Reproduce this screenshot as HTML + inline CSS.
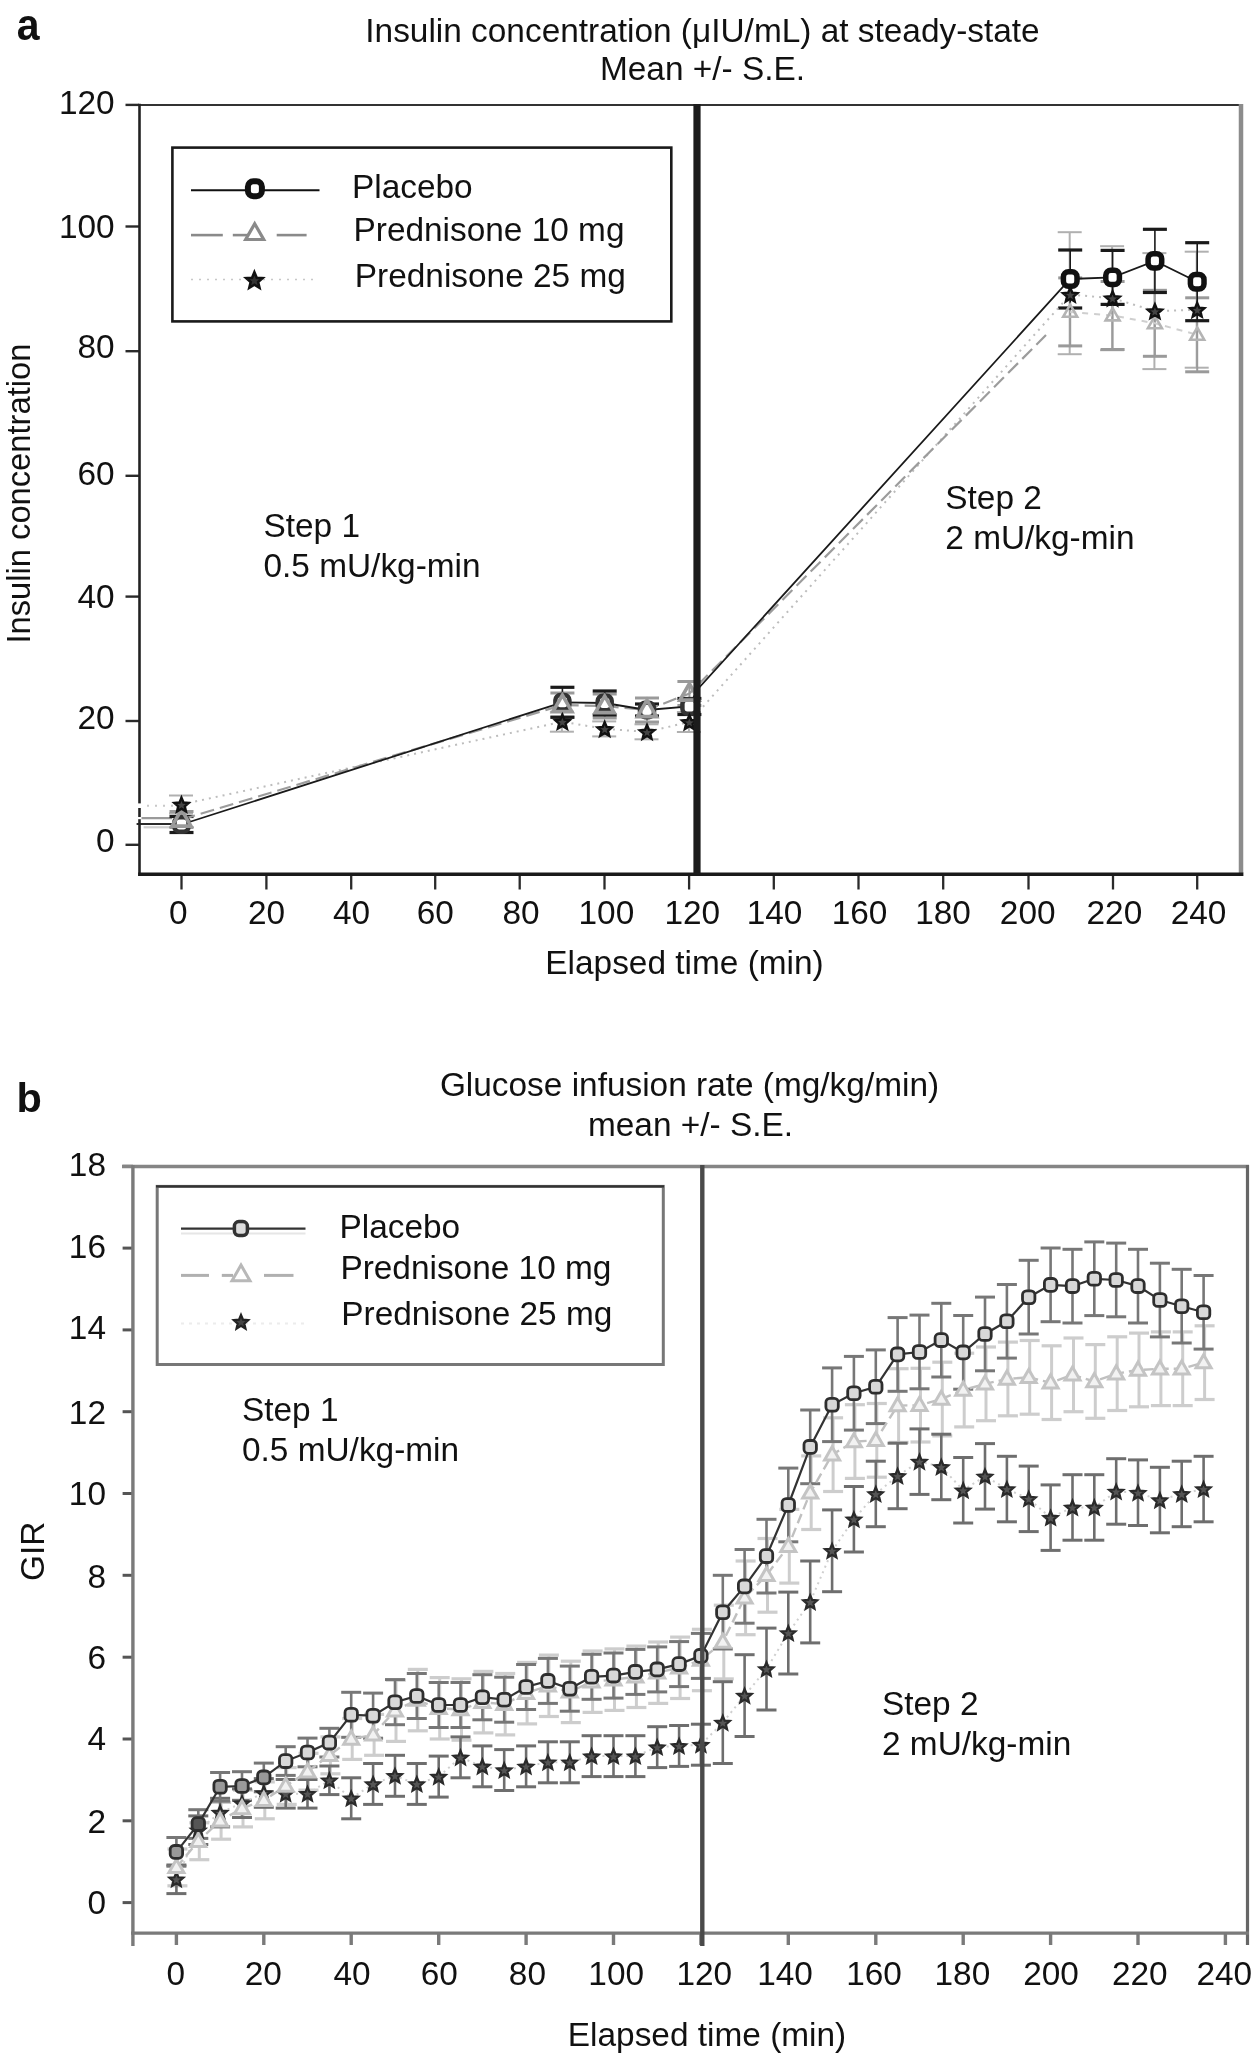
<!DOCTYPE html>
<html><head><meta charset="utf-8"><title>Insulin and GIR charts</title>
<style>
html,body{margin:0;padding:0;background:#fff;}
svg{display:block;filter:grayscale(1);}
text{font-family:"Liberation Sans", sans-serif;}
</style></head>
<body>
<svg width="1254" height="2054" viewBox="0 0 1254 2054">
<rect x="0" y="0" width="1254" height="2054" fill="#fff"/>
<text x="16.8" y="39.6" font-size="44" text-anchor="start" font-weight="bold" fill="#111" textLength="22.8" lengthAdjust="spacingAndGlyphs">a</text>
<text x="702.5" y="41.5" font-size="33.4" text-anchor="middle" font-weight="normal" fill="#111" >Insulin concentration (μIU/mL) at steady-state</text>
<text x="702.5" y="80.0" font-size="33.4" text-anchor="middle" font-weight="normal" fill="#111" >Mean +/- S.E.</text>
<line x1="125.5" y1="104.9" x2="139.0" y2="104.9" stroke="#2a2a2a" stroke-width="2.4" />
<text x="114.6" y="114.1" font-size="33.4" text-anchor="end" font-weight="normal" fill="#111" >120</text>
<line x1="125.5" y1="226.5" x2="139.0" y2="226.5" stroke="#2a2a2a" stroke-width="2.4" />
<text x="114.6" y="237.5" font-size="33.4" text-anchor="end" font-weight="normal" fill="#111" >100</text>
<line x1="125.5" y1="351.2" x2="139.0" y2="351.2" stroke="#2a2a2a" stroke-width="2.4" />
<text x="114.6" y="357.6" font-size="33.4" text-anchor="end" font-weight="normal" fill="#111" >80</text>
<line x1="125.5" y1="475.8" x2="139.0" y2="475.8" stroke="#2a2a2a" stroke-width="2.4" />
<text x="114.6" y="484.6" font-size="33.4" text-anchor="end" font-weight="normal" fill="#111" >60</text>
<line x1="125.5" y1="596.6" x2="139.0" y2="596.6" stroke="#2a2a2a" stroke-width="2.4" />
<text x="114.6" y="607.8" font-size="33.4" text-anchor="end" font-weight="normal" fill="#111" >40</text>
<line x1="125.5" y1="721.0" x2="139.0" y2="721.0" stroke="#2a2a2a" stroke-width="2.4" />
<text x="114.6" y="728.6" font-size="33.4" text-anchor="end" font-weight="normal" fill="#111" >20</text>
<line x1="125.5" y1="844.8" x2="139.0" y2="844.8" stroke="#2a2a2a" stroke-width="2.4" />
<text x="114.6" y="852.4" font-size="33.4" text-anchor="end" font-weight="normal" fill="#111" >0</text>
<line x1="181.5" y1="874.0" x2="181.5" y2="889.5" stroke="#2a2a2a" stroke-width="2.3" />
<text x="178.4" y="923.6" font-size="33.4" text-anchor="middle" font-weight="normal" fill="#111" >0</text>
<line x1="266.4" y1="874.0" x2="266.4" y2="889.5" stroke="#2a2a2a" stroke-width="2.3" />
<text x="266.6" y="923.6" font-size="33.4" text-anchor="middle" font-weight="normal" fill="#111" >20</text>
<line x1="351.2" y1="874.0" x2="351.2" y2="889.5" stroke="#2a2a2a" stroke-width="2.3" />
<text x="351.6" y="923.6" font-size="33.4" text-anchor="middle" font-weight="normal" fill="#111" >40</text>
<line x1="435.2" y1="874.0" x2="435.2" y2="889.5" stroke="#2a2a2a" stroke-width="2.3" />
<text x="435.2" y="923.6" font-size="33.4" text-anchor="middle" font-weight="normal" fill="#111" >60</text>
<line x1="519.7" y1="874.0" x2="519.7" y2="889.5" stroke="#2a2a2a" stroke-width="2.3" />
<text x="521.1" y="923.6" font-size="33.4" text-anchor="middle" font-weight="normal" fill="#111" >80</text>
<line x1="604.5" y1="874.0" x2="604.5" y2="889.5" stroke="#2a2a2a" stroke-width="2.3" />
<text x="606.4" y="923.6" font-size="33.4" text-anchor="middle" font-weight="normal" fill="#111" >100</text>
<line x1="689.1" y1="874.0" x2="689.1" y2="889.5" stroke="#2a2a2a" stroke-width="2.3" />
<text x="692.3" y="923.6" font-size="33.4" text-anchor="middle" font-weight="normal" fill="#111" >120</text>
<line x1="773.8" y1="874.0" x2="773.8" y2="889.5" stroke="#2a2a2a" stroke-width="2.3" />
<text x="774.5" y="923.6" font-size="33.4" text-anchor="middle" font-weight="normal" fill="#111" >140</text>
<line x1="858.5" y1="874.0" x2="858.5" y2="889.5" stroke="#2a2a2a" stroke-width="2.3" />
<text x="859.5" y="923.6" font-size="33.4" text-anchor="middle" font-weight="normal" fill="#111" >160</text>
<line x1="943.2" y1="874.0" x2="943.2" y2="889.5" stroke="#2a2a2a" stroke-width="2.3" />
<text x="943.1" y="923.6" font-size="33.4" text-anchor="middle" font-weight="normal" fill="#111" >180</text>
<line x1="1028.5" y1="874.0" x2="1028.5" y2="889.5" stroke="#2a2a2a" stroke-width="2.3" />
<text x="1027.7" y="923.6" font-size="33.4" text-anchor="middle" font-weight="normal" fill="#111" >200</text>
<line x1="1113.0" y1="874.0" x2="1113.0" y2="889.5" stroke="#2a2a2a" stroke-width="2.3" />
<text x="1114.4" y="923.6" font-size="33.4" text-anchor="middle" font-weight="normal" fill="#111" >220</text>
<line x1="1197.2" y1="874.0" x2="1197.2" y2="889.5" stroke="#2a2a2a" stroke-width="2.3" />
<text x="1198.6" y="923.6" font-size="33.4" text-anchor="middle" font-weight="normal" fill="#111" >240</text>
<text x="684.5" y="974.0" font-size="33.4" text-anchor="middle" font-weight="normal" fill="#111" >Elapsed time (min)</text>
<text x="29.6" y="493.6" font-size="33" text-anchor="middle" font-weight="normal" fill="#111" transform="rotate(-90 29.6 493.6)" textLength="300" lengthAdjust="spacingAndGlyphs">Insulin concentration</text>
<text x="263.5" y="536.5" font-size="33.4" text-anchor="start" font-weight="normal" fill="#111" >Step 1</text>
<text x="263.5" y="577.3" font-size="33.4" text-anchor="start" font-weight="normal" fill="#111" >0.5 mU/kg-min</text>
<text x="945.3" y="508.5" font-size="33.4" text-anchor="start" font-weight="normal" fill="#111" >Step 2</text>
<text x="945.3" y="548.5" font-size="33.4" text-anchor="start" font-weight="normal" fill="#111" >2 mU/kg-min</text>
<rect x="172.4" y="147.6" width="498.9" height="173.8" fill="none" stroke="#1a1a1a" stroke-width="2.6"/>
<line x1="191.0" y1="190.2" x2="319.5" y2="190.2" stroke="#111" stroke-width="2" />
<rect x="247.9" y="181.2" width="14" height="15.0" rx="5.5" fill="#fff" stroke="#111" stroke-width="6"/>
<line x1="191.0" y1="235.1" x2="222.8" y2="235.1" stroke="#8a8a8a" stroke-width="2.6" />
<line x1="232.8" y1="235.1" x2="248.7" y2="235.1" stroke="#8a8a8a" stroke-width="2.6" />
<line x1="276.7" y1="235.1" x2="306.6" y2="235.1" stroke="#8a8a8a" stroke-width="2.6" />
<polygon points="254.7,223.8 263.7,239.5 245.7,239.5" fill="#fff" stroke="#8a8a8a" stroke-width="3.2" stroke-linejoin="miter"/>
<line x1="191.0" y1="279.6" x2="318.0" y2="279.6" stroke="#c8c8c8" stroke-width="1.5" stroke-dasharray="2 6"/>
<polygon points="254.4,272.2 256.7,277.7 262.6,278.1 258.1,282.0 259.5,287.8 254.4,284.7 249.3,287.8 250.7,282.0 246.2,278.1 252.1,277.7" fill="#333" stroke="#111" stroke-width="2.6"/>
<text x="352.0" y="198.3" font-size="33.4" text-anchor="start" font-weight="normal" fill="#111" >Placebo</text>
<text x="353.5" y="240.5" font-size="33.4" text-anchor="start" font-weight="normal" fill="#111" >Prednisone 10 mg</text>
<text x="354.8" y="286.6" font-size="33.4" text-anchor="start" font-weight="normal" fill="#111" >Prednisone 25 mg</text>
<line x1="139.0" y1="818.1" x2="172.0" y2="818.1" stroke="#9a9a9a" stroke-width="2.2" />
<line x1="136.6" y1="823.9" x2="172.0" y2="823.9" stroke="#2a2a2a" stroke-width="2" />
<line x1="143.6" y1="827.3" x2="170.0" y2="827.3" stroke="#cfcfcf" stroke-width="2.2" />
<line x1="139.0" y1="805.7" x2="180.0" y2="805.7" stroke="#c8c8c8" stroke-width="2" stroke-dasharray="2 6"/>
<line x1="181.0" y1="795.5" x2="181.0" y2="813.5" stroke="#b0b0b0" stroke-width="2" />
<line x1="169.0" y1="795.5" x2="193.0" y2="795.5" stroke="#b0b0b0" stroke-width="2" />
<line x1="169.0" y1="813.5" x2="193.0" y2="813.5" stroke="#b0b0b0" stroke-width="2" />
<line x1="561.9" y1="711.7" x2="561.9" y2="731.7" stroke="#b0b0b0" stroke-width="2" />
<line x1="549.9" y1="711.7" x2="573.9" y2="711.7" stroke="#b0b0b0" stroke-width="2" />
<line x1="549.9" y1="731.7" x2="573.9" y2="731.7" stroke="#b0b0b0" stroke-width="2" />
<line x1="604.2" y1="721.4" x2="604.2" y2="736.4" stroke="#b0b0b0" stroke-width="2" />
<line x1="592.2" y1="721.4" x2="616.2" y2="721.4" stroke="#b0b0b0" stroke-width="2" />
<line x1="592.2" y1="736.4" x2="616.2" y2="736.4" stroke="#b0b0b0" stroke-width="2" />
<line x1="646.5" y1="724.3" x2="646.5" y2="739.3" stroke="#b0b0b0" stroke-width="2" />
<line x1="634.5" y1="724.3" x2="658.5" y2="724.3" stroke="#b0b0b0" stroke-width="2" />
<line x1="634.5" y1="739.3" x2="658.5" y2="739.3" stroke="#b0b0b0" stroke-width="2" />
<line x1="688.9" y1="712.0" x2="688.9" y2="732.0" stroke="#b0b0b0" stroke-width="2" />
<line x1="676.9" y1="712.0" x2="700.9" y2="712.0" stroke="#b0b0b0" stroke-width="2" />
<line x1="676.9" y1="732.0" x2="700.9" y2="732.0" stroke="#b0b0b0" stroke-width="2" />
<line x1="1069.7" y1="232.2" x2="1069.7" y2="354.2" stroke="#b0b0b0" stroke-width="2" />
<line x1="1057.7" y1="232.2" x2="1081.7" y2="232.2" stroke="#b0b0b0" stroke-width="2" />
<line x1="1057.7" y1="354.2" x2="1081.7" y2="354.2" stroke="#b0b0b0" stroke-width="2" />
<line x1="1112.1" y1="246.2" x2="1112.1" y2="350.2" stroke="#b0b0b0" stroke-width="2" />
<line x1="1100.1" y1="246.2" x2="1124.1" y2="246.2" stroke="#b0b0b0" stroke-width="2" />
<line x1="1100.1" y1="350.2" x2="1124.1" y2="350.2" stroke="#b0b0b0" stroke-width="2" />
<line x1="1154.4" y1="253.1" x2="1154.4" y2="369.1" stroke="#b0b0b0" stroke-width="2" />
<line x1="1142.4" y1="253.1" x2="1166.4" y2="253.1" stroke="#b0b0b0" stroke-width="2" />
<line x1="1142.4" y1="369.1" x2="1166.4" y2="369.1" stroke="#b0b0b0" stroke-width="2" />
<line x1="1196.7" y1="251.7" x2="1196.7" y2="367.7" stroke="#b0b0b0" stroke-width="2" />
<line x1="1184.7" y1="251.7" x2="1208.7" y2="251.7" stroke="#b0b0b0" stroke-width="2" />
<line x1="1184.7" y1="367.7" x2="1208.7" y2="367.7" stroke="#b0b0b0" stroke-width="2" />
<line x1="181.5" y1="811.5" x2="181.5" y2="827.5" stroke="#9a9a9a" stroke-width="2" />
<line x1="169.5" y1="811.5" x2="193.5" y2="811.5" stroke="#9a9a9a" stroke-width="3" />
<line x1="169.5" y1="827.5" x2="193.5" y2="827.5" stroke="#9a9a9a" stroke-width="3" />
<line x1="562.4" y1="693.0" x2="562.4" y2="717.0" stroke="#9a9a9a" stroke-width="2" />
<line x1="550.4" y1="693.0" x2="574.4" y2="693.0" stroke="#9a9a9a" stroke-width="3" />
<line x1="550.4" y1="717.0" x2="574.4" y2="717.0" stroke="#9a9a9a" stroke-width="3" />
<line x1="604.7" y1="694.0" x2="604.7" y2="718.0" stroke="#9a9a9a" stroke-width="2" />
<line x1="592.7" y1="694.0" x2="616.7" y2="694.0" stroke="#9a9a9a" stroke-width="3" />
<line x1="592.7" y1="718.0" x2="616.7" y2="718.0" stroke="#9a9a9a" stroke-width="3" />
<line x1="647.0" y1="698.0" x2="647.0" y2="722.0" stroke="#9a9a9a" stroke-width="2" />
<line x1="635.0" y1="698.0" x2="659.0" y2="698.0" stroke="#9a9a9a" stroke-width="3" />
<line x1="635.0" y1="722.0" x2="659.0" y2="722.0" stroke="#9a9a9a" stroke-width="3" />
<line x1="689.4" y1="681.5" x2="689.4" y2="705.5" stroke="#9a9a9a" stroke-width="2" />
<line x1="677.4" y1="681.5" x2="701.4" y2="681.5" stroke="#9a9a9a" stroke-width="3" />
<line x1="677.4" y1="705.5" x2="701.4" y2="705.5" stroke="#9a9a9a" stroke-width="3" />
<line x1="1070.2" y1="277.9" x2="1070.2" y2="345.9" stroke="#9a9a9a" stroke-width="2" />
<line x1="1058.2" y1="277.9" x2="1082.2" y2="277.9" stroke="#9a9a9a" stroke-width="3" />
<line x1="1058.2" y1="345.9" x2="1082.2" y2="345.9" stroke="#9a9a9a" stroke-width="3" />
<line x1="1112.6" y1="281.5" x2="1112.6" y2="349.5" stroke="#9a9a9a" stroke-width="2" />
<line x1="1100.6" y1="281.5" x2="1124.6" y2="281.5" stroke="#9a9a9a" stroke-width="3" />
<line x1="1100.6" y1="349.5" x2="1124.6" y2="349.5" stroke="#9a9a9a" stroke-width="3" />
<line x1="1154.9" y1="290.3" x2="1154.9" y2="356.3" stroke="#9a9a9a" stroke-width="2" />
<line x1="1142.9" y1="290.3" x2="1166.9" y2="290.3" stroke="#9a9a9a" stroke-width="3" />
<line x1="1142.9" y1="356.3" x2="1166.9" y2="356.3" stroke="#9a9a9a" stroke-width="3" />
<line x1="1197.2" y1="297.8" x2="1197.2" y2="371.8" stroke="#9a9a9a" stroke-width="2" />
<line x1="1185.2" y1="297.8" x2="1209.2" y2="297.8" stroke="#9a9a9a" stroke-width="3" />
<line x1="1185.2" y1="371.8" x2="1209.2" y2="371.8" stroke="#9a9a9a" stroke-width="3" />
<line x1="181.5" y1="816.5" x2="181.5" y2="832.5" stroke="#1a1a1a" stroke-width="1.6" />
<line x1="169.5" y1="816.5" x2="193.5" y2="816.5" stroke="#1a1a1a" stroke-width="3.2" />
<line x1="169.5" y1="832.5" x2="193.5" y2="832.5" stroke="#1a1a1a" stroke-width="3.2" />
<line x1="562.4" y1="687.3" x2="562.4" y2="717.3" stroke="#1a1a1a" stroke-width="1.6" />
<line x1="550.4" y1="687.3" x2="574.4" y2="687.3" stroke="#1a1a1a" stroke-width="3.2" />
<line x1="550.4" y1="717.3" x2="574.4" y2="717.3" stroke="#1a1a1a" stroke-width="3.2" />
<line x1="604.7" y1="691.0" x2="604.7" y2="715.0" stroke="#1a1a1a" stroke-width="1.6" />
<line x1="592.7" y1="691.0" x2="616.7" y2="691.0" stroke="#1a1a1a" stroke-width="3.2" />
<line x1="592.7" y1="715.0" x2="616.7" y2="715.0" stroke="#1a1a1a" stroke-width="3.2" />
<line x1="647.0" y1="704.0" x2="647.0" y2="716.0" stroke="#1a1a1a" stroke-width="1.6" />
<line x1="635.0" y1="704.0" x2="659.0" y2="704.0" stroke="#1a1a1a" stroke-width="3.2" />
<line x1="635.0" y1="716.0" x2="659.0" y2="716.0" stroke="#1a1a1a" stroke-width="3.2" />
<line x1="689.4" y1="698.5" x2="689.4" y2="714.5" stroke="#1a1a1a" stroke-width="1.6" />
<line x1="677.4" y1="698.5" x2="701.4" y2="698.5" stroke="#1a1a1a" stroke-width="3.2" />
<line x1="677.4" y1="714.5" x2="701.4" y2="714.5" stroke="#1a1a1a" stroke-width="3.2" />
<line x1="1070.2" y1="250.0" x2="1070.2" y2="308.0" stroke="#1a1a1a" stroke-width="1.6" />
<line x1="1058.2" y1="250.0" x2="1082.2" y2="250.0" stroke="#1a1a1a" stroke-width="3.2" />
<line x1="1058.2" y1="308.0" x2="1082.2" y2="308.0" stroke="#1a1a1a" stroke-width="3.2" />
<line x1="1112.6" y1="250.4" x2="1112.6" y2="304.4" stroke="#1a1a1a" stroke-width="1.6" />
<line x1="1100.6" y1="250.4" x2="1124.6" y2="250.4" stroke="#1a1a1a" stroke-width="3.2" />
<line x1="1100.6" y1="304.4" x2="1124.6" y2="304.4" stroke="#1a1a1a" stroke-width="3.2" />
<line x1="1154.9" y1="229.3" x2="1154.9" y2="292.5" stroke="#1a1a1a" stroke-width="1.6" />
<line x1="1142.9" y1="229.3" x2="1166.9" y2="229.3" stroke="#1a1a1a" stroke-width="3.2" />
<line x1="1142.9" y1="292.5" x2="1166.9" y2="292.5" stroke="#1a1a1a" stroke-width="3.2" />
<line x1="1197.2" y1="242.7" x2="1197.2" y2="320.7" stroke="#1a1a1a" stroke-width="1.6" />
<line x1="1185.2" y1="242.7" x2="1209.2" y2="242.7" stroke="#1a1a1a" stroke-width="3.2" />
<line x1="1185.2" y1="320.7" x2="1209.2" y2="320.7" stroke="#1a1a1a" stroke-width="3.2" />
<polyline points="181.5,804.5 562.4,721.7 604.7,728.9 647.0,731.8 689.4,722.0 1070.2,294.6 1112.6,298.2 1154.9,311.1 1197.2,309.7" fill="none" stroke="#bdbdbd" stroke-width="2" stroke-dasharray="2 5"/>
<polyline points="181.5,819.5 562.4,705.0 604.7,706.0 647.0,710.0 689.4,693.5 1046.0,335.0" fill="none" stroke="#9c9c9c" stroke-width="2.2" stroke-dasharray="14 6"/>
<polyline points="1070.2,311.9 1112.6,315.5 1154.9,323.3 1197.2,334.8" fill="none" stroke="#cfcfcf" stroke-width="2" stroke-dasharray="6 6"/>
<polyline points="181.5,824.5 562.4,702.3 604.7,703.0 647.0,710.0 689.4,706.5 697.0,690.0 1070.2,279.0 1112.6,277.4 1154.9,260.9 1197.2,281.7" fill="none" stroke="#1a1a1a" stroke-width="1.8" />
<rect x="174.5" y="817.3" width="14" height="14.4" rx="5" fill="#fff" stroke="#333" stroke-width="4.5"/>
<rect x="555.4" y="695.1" width="14" height="14.4" rx="5" fill="#fff" stroke="#333" stroke-width="4.5"/>
<rect x="597.7" y="695.8" width="14" height="14.4" rx="5" fill="#fff" stroke="#333" stroke-width="4.5"/>
<rect x="640.0" y="702.8" width="14" height="14.4" rx="5" fill="#fff" stroke="#333" stroke-width="4.5"/>
<rect x="682.4" y="699.3" width="14" height="14.4" rx="5" fill="#fff" stroke="#333" stroke-width="4.5"/>
<polygon points="181.5,809.6 191.0,826.1 172.0,826.1" fill="none" stroke="#9a9a9a" stroke-width="3.6" stroke-linejoin="miter"/>
<polygon points="562.4,695.1 571.9,711.6 552.9,711.6" fill="none" stroke="#9a9a9a" stroke-width="3.6" stroke-linejoin="miter"/>
<polygon points="604.7,696.1 614.2,712.6 595.2,712.6" fill="none" stroke="#9a9a9a" stroke-width="3.6" stroke-linejoin="miter"/>
<polygon points="647.0,700.1 656.5,716.6 637.5,716.6" fill="none" stroke="#9a9a9a" stroke-width="3.6" stroke-linejoin="miter"/>
<polygon points="689.4,683.6 698.9,700.1 679.9,700.1" fill="none" stroke="#9a9a9a" stroke-width="3.6" stroke-linejoin="miter"/>
<rect x="1063.4" y="271.8" width="13.6" height="14.4" rx="5" fill="#fff" stroke="#111" stroke-width="5.5"/>
<rect x="1105.8" y="270.2" width="13.6" height="14.4" rx="5" fill="#fff" stroke="#111" stroke-width="5.5"/>
<rect x="1148.1" y="253.7" width="13.6" height="14.4" rx="5" fill="#fff" stroke="#111" stroke-width="5.5"/>
<rect x="1190.4" y="274.5" width="13.6" height="14.4" rx="5" fill="#fff" stroke="#111" stroke-width="5.5"/>
<polygon points="1070.2,304.6 1077.2,316.8 1063.2,316.8" fill="none" stroke="#b4b4b4" stroke-width="2.6" stroke-linejoin="miter"/>
<polygon points="1112.6,308.2 1119.6,320.4 1105.6,320.4" fill="none" stroke="#b4b4b4" stroke-width="2.6" stroke-linejoin="miter"/>
<polygon points="1154.9,316.0 1161.9,328.2 1147.9,328.2" fill="none" stroke="#b4b4b4" stroke-width="2.6" stroke-linejoin="miter"/>
<polygon points="1197.2,327.5 1204.2,339.7 1190.2,339.7" fill="none" stroke="#b4b4b4" stroke-width="2.6" stroke-linejoin="miter"/>
<polygon points="181.5,797.7 183.5,802.5 188.7,803.0 184.8,806.4 186.0,811.4 181.5,808.7 177.0,811.4 178.2,806.4 174.3,803.0 179.5,802.5" fill="#444" stroke="#111" stroke-width="2.4"/>
<polygon points="562.4,714.9 564.4,719.7 569.6,720.2 565.6,723.6 566.9,728.6 562.4,725.9 557.9,728.6 559.1,723.6 555.2,720.2 560.4,719.7" fill="#444" stroke="#111" stroke-width="2.4"/>
<polygon points="604.7,722.1 606.7,726.9 611.9,727.4 608.0,730.8 609.2,735.8 604.7,733.1 600.2,735.8 601.5,730.8 597.5,727.4 602.7,726.9" fill="#444" stroke="#111" stroke-width="2.4"/>
<polygon points="647.0,725.0 649.0,729.8 654.3,730.3 650.3,733.7 651.5,738.7 647.0,736.0 642.6,738.7 643.8,733.7 639.8,730.3 645.0,729.8" fill="#444" stroke="#111" stroke-width="2.4"/>
<polygon points="689.4,715.2 691.4,720.0 696.6,720.5 692.6,723.9 693.8,728.9 689.4,726.2 684.9,728.9 686.1,723.9 682.1,720.5 687.3,720.0" fill="#444" stroke="#111" stroke-width="2.4"/>
<polygon points="1070.2,287.8 1072.3,292.6 1077.5,293.1 1073.5,296.5 1074.7,301.5 1070.2,298.8 1065.8,301.5 1067.0,296.5 1063.0,293.1 1068.2,292.6" fill="#444" stroke="#111" stroke-width="2.4"/>
<polygon points="1112.6,291.4 1114.6,296.2 1119.8,296.7 1115.8,300.1 1117.0,305.1 1112.6,302.4 1108.1,305.1 1109.3,300.1 1105.3,296.7 1110.6,296.2" fill="#444" stroke="#111" stroke-width="2.4"/>
<polygon points="1154.9,304.3 1156.9,309.1 1162.1,309.6 1158.1,313.0 1159.4,318.0 1154.9,315.3 1150.4,318.0 1151.6,313.0 1147.7,309.6 1152.9,309.1" fill="#444" stroke="#111" stroke-width="2.4"/>
<polygon points="1197.2,302.9 1199.2,307.7 1204.4,308.2 1200.5,311.6 1201.7,316.6 1197.2,313.9 1192.7,316.6 1194.0,311.6 1190.0,308.2 1195.2,307.7" fill="#444" stroke="#111" stroke-width="2.4"/>
<line x1="139.0" y1="104.9" x2="1243.0" y2="104.9" stroke="#333" stroke-width="2" />
<line x1="1241.0" y1="104.0" x2="1241.0" y2="873.0" stroke="#8c8c8c" stroke-width="4.5" />
<line x1="139.5" y1="103.8" x2="139.5" y2="876.0" stroke="#222" stroke-width="2.6" />
<line x1="138.2" y1="874.2" x2="1243.4" y2="874.2" stroke="#1a1a1a" stroke-width="3.5" />
<line x1="697.0" y1="104.0" x2="697.0" y2="874.0" stroke="#1c1c1c" stroke-width="7.2" />
<rect x="137" y="803.4" width="4.5" height="4.6" fill="#fff"/>
<rect x="137" y="817" width="4.5" height="2.2" fill="#fff"/>
<text x="16.6" y="1112.4" font-size="41.5" text-anchor="start" font-weight="bold" fill="#111" >b</text>
<text x="689.5" y="1095.5" font-size="33.4" text-anchor="middle" font-weight="normal" fill="#111" >Glucose infusion rate (mg/kg/min)</text>
<text x="690.5" y="1136.0" font-size="33.4" text-anchor="middle" font-weight="normal" fill="#111" >mean +/- S.E.</text>
<line x1="122.6" y1="1902.6" x2="133.0" y2="1902.6" stroke="#555" stroke-width="3" />
<text x="106.0" y="1913.8" font-size="33.4" text-anchor="end" font-weight="normal" fill="#111" >0</text>
<line x1="122.6" y1="1820.8" x2="133.0" y2="1820.8" stroke="#555" stroke-width="3" />
<text x="106.0" y="1832.5" font-size="33.4" text-anchor="end" font-weight="normal" fill="#111" >2</text>
<line x1="122.6" y1="1739.0" x2="133.0" y2="1739.0" stroke="#555" stroke-width="3" />
<text x="106.0" y="1750.3" font-size="33.4" text-anchor="end" font-weight="normal" fill="#111" >4</text>
<line x1="122.6" y1="1657.2" x2="133.0" y2="1657.2" stroke="#555" stroke-width="3" />
<text x="106.0" y="1668.7" font-size="33.4" text-anchor="end" font-weight="normal" fill="#111" >6</text>
<line x1="122.6" y1="1575.3" x2="133.0" y2="1575.3" stroke="#555" stroke-width="3" />
<text x="106.0" y="1587.6" font-size="33.4" text-anchor="end" font-weight="normal" fill="#111" >8</text>
<line x1="122.6" y1="1493.5" x2="133.0" y2="1493.5" stroke="#555" stroke-width="3" />
<text x="106.0" y="1505.0" font-size="33.4" text-anchor="end" font-weight="normal" fill="#111" >10</text>
<line x1="122.6" y1="1411.7" x2="133.0" y2="1411.7" stroke="#555" stroke-width="3" />
<text x="106.0" y="1423.8" font-size="33.4" text-anchor="end" font-weight="normal" fill="#111" >12</text>
<line x1="122.6" y1="1329.9" x2="133.0" y2="1329.9" stroke="#555" stroke-width="3" />
<text x="106.0" y="1339.0" font-size="33.4" text-anchor="end" font-weight="normal" fill="#111" >14</text>
<line x1="122.6" y1="1248.1" x2="133.0" y2="1248.1" stroke="#555" stroke-width="3" />
<text x="106.0" y="1258.2" font-size="33.4" text-anchor="end" font-weight="normal" fill="#111" >16</text>
<line x1="122.6" y1="1166.3" x2="133.0" y2="1166.3" stroke="#555" stroke-width="3" />
<text x="106.0" y="1175.9" font-size="33.4" text-anchor="end" font-weight="normal" fill="#111" >18</text>
<line x1="176.4" y1="1933.0" x2="176.4" y2="1945.0" stroke="#7a7a7a" stroke-width="3.4" />
<text x="175.9" y="1984.8" font-size="33.4" text-anchor="middle" font-weight="normal" fill="#111" >0</text>
<line x1="263.8" y1="1933.0" x2="263.8" y2="1945.0" stroke="#7a7a7a" stroke-width="3.4" />
<text x="263.3" y="1984.8" font-size="33.4" text-anchor="middle" font-weight="normal" fill="#111" >20</text>
<line x1="351.2" y1="1933.0" x2="351.2" y2="1945.0" stroke="#7a7a7a" stroke-width="3.4" />
<text x="352.0" y="1984.8" font-size="33.4" text-anchor="middle" font-weight="normal" fill="#111" >40</text>
<line x1="438.7" y1="1933.0" x2="438.7" y2="1945.0" stroke="#7a7a7a" stroke-width="3.4" />
<text x="439.3" y="1984.8" font-size="33.4" text-anchor="middle" font-weight="normal" fill="#111" >60</text>
<line x1="526.1" y1="1933.0" x2="526.1" y2="1945.0" stroke="#7a7a7a" stroke-width="3.4" />
<text x="527.4" y="1984.8" font-size="33.4" text-anchor="middle" font-weight="normal" fill="#111" >80</text>
<line x1="613.5" y1="1933.0" x2="613.5" y2="1945.0" stroke="#7a7a7a" stroke-width="3.4" />
<text x="616.2" y="1984.8" font-size="33.4" text-anchor="middle" font-weight="normal" fill="#111" >100</text>
<line x1="700.9" y1="1933.0" x2="700.9" y2="1945.0" stroke="#7a7a7a" stroke-width="3.4" />
<text x="704.3" y="1984.8" font-size="33.4" text-anchor="middle" font-weight="normal" fill="#111" >120</text>
<line x1="788.3" y1="1933.0" x2="788.3" y2="1945.0" stroke="#7a7a7a" stroke-width="3.4" />
<text x="785.0" y="1984.8" font-size="33.4" text-anchor="middle" font-weight="normal" fill="#111" >140</text>
<line x1="875.8" y1="1933.0" x2="875.8" y2="1945.0" stroke="#7a7a7a" stroke-width="3.4" />
<text x="874.0" y="1984.8" font-size="33.4" text-anchor="middle" font-weight="normal" fill="#111" >160</text>
<line x1="963.2" y1="1933.0" x2="963.2" y2="1945.0" stroke="#7a7a7a" stroke-width="3.4" />
<text x="962.4" y="1984.8" font-size="33.4" text-anchor="middle" font-weight="normal" fill="#111" >180</text>
<line x1="1050.6" y1="1933.0" x2="1050.6" y2="1945.0" stroke="#7a7a7a" stroke-width="3.4" />
<text x="1051.0" y="1984.8" font-size="33.4" text-anchor="middle" font-weight="normal" fill="#111" >200</text>
<line x1="1138.0" y1="1933.0" x2="1138.0" y2="1945.0" stroke="#7a7a7a" stroke-width="3.4" />
<text x="1139.8" y="1984.8" font-size="33.4" text-anchor="middle" font-weight="normal" fill="#111" >220</text>
<line x1="1225.4" y1="1933.0" x2="1225.4" y2="1945.0" stroke="#7a7a7a" stroke-width="3.4" />
<text x="1224.3" y="1984.8" font-size="33.4" text-anchor="middle" font-weight="normal" fill="#111" >240</text>
<text x="707.0" y="2046.4" font-size="33.4" text-anchor="middle" font-weight="normal" fill="#111" >Elapsed time (min)</text>
<text x="44.5" y="1551.4" font-size="33.4" text-anchor="middle" font-weight="normal" fill="#111" transform="rotate(-90 44.5 1551.4)">GIR</text>
<text x="242.0" y="1420.6" font-size="33.4" text-anchor="start" font-weight="normal" fill="#111" >Step 1</text>
<text x="242.0" y="1460.5" font-size="33.4" text-anchor="start" font-weight="normal" fill="#111" >0.5 mU/kg-min</text>
<text x="882.0" y="1714.7" font-size="33.4" text-anchor="start" font-weight="normal" fill="#111" >Step 2</text>
<text x="882.0" y="1755.2" font-size="33.4" text-anchor="start" font-weight="normal" fill="#111" >2 mU/kg-min</text>
<rect x="157.2" y="1186.4" width="506.1" height="178.1" fill="none" stroke="#777" stroke-width="3"/>
<line x1="156.0" y1="1186.4" x2="664.0" y2="1186.4" stroke="#333" stroke-width="2.2" />
<line x1="181.0" y1="1233.4" x2="305.5" y2="1233.4" stroke="#e6e6e6" stroke-width="2" />
<line x1="181.0" y1="1228.6" x2="305.5" y2="1228.6" stroke="#333" stroke-width="2.4" />
<rect x="234.4" y="1221.6" width="13.0" height="14" rx="4.5" fill="#ddd" stroke="#333" stroke-width="3.5"/>
<line x1="181.0" y1="1275.4" x2="209.0" y2="1275.4" stroke="#b0b0b0" stroke-width="3" />
<line x1="221.8" y1="1275.4" x2="233.0" y2="1275.4" stroke="#b0b0b0" stroke-width="3" />
<line x1="264.0" y1="1275.4" x2="293.5" y2="1275.4" stroke="#b0b0b0" stroke-width="3" />
<polygon points="241.0,1265.1 250.0,1280.8 232.0,1280.8" fill="#fff" stroke="#b8b8b8" stroke-width="3" stroke-linejoin="miter"/>
<line x1="181.0" y1="1323.5" x2="305.0" y2="1323.5" stroke="#ececec" stroke-width="2" stroke-dasharray="3 5"/>
<polygon points="241.0,1314.9 243.0,1319.7 248.2,1320.2 244.3,1323.6 245.5,1328.6 241.0,1325.9 236.5,1328.6 237.7,1323.6 233.8,1320.2 239.0,1319.7" fill="#444" stroke="#222" stroke-width="2.2"/>
<text x="339.5" y="1237.6" font-size="33.4" text-anchor="start" font-weight="normal" fill="#111" >Placebo</text>
<text x="340.4" y="1278.5" font-size="33.4" text-anchor="start" font-weight="normal" fill="#111" >Prednisone 10 mg</text>
<text x="341.3" y="1325.0" font-size="33.4" text-anchor="start" font-weight="normal" fill="#111" >Prednisone 25 mg</text>
<line x1="177.4" y1="1849.0" x2="177.4" y2="1885.8" stroke="#cdcdcd" stroke-width="3" />
<line x1="167.4" y1="1849.0" x2="187.4" y2="1849.0" stroke="#cdcdcd" stroke-width="3.2" />
<line x1="167.4" y1="1885.8" x2="187.4" y2="1885.8" stroke="#cdcdcd" stroke-width="3.2" />
<line x1="199.3" y1="1822.8" x2="199.3" y2="1859.7" stroke="#cdcdcd" stroke-width="3" />
<line x1="189.3" y1="1822.8" x2="209.3" y2="1822.8" stroke="#cdcdcd" stroke-width="3.2" />
<line x1="189.3" y1="1859.7" x2="209.3" y2="1859.7" stroke="#cdcdcd" stroke-width="3.2" />
<line x1="221.1" y1="1802.4" x2="221.1" y2="1839.2" stroke="#cdcdcd" stroke-width="3" />
<line x1="211.1" y1="1802.4" x2="231.1" y2="1802.4" stroke="#cdcdcd" stroke-width="3.2" />
<line x1="211.1" y1="1839.2" x2="231.1" y2="1839.2" stroke="#cdcdcd" stroke-width="3.2" />
<line x1="243.0" y1="1790.1" x2="243.0" y2="1826.9" stroke="#cdcdcd" stroke-width="3" />
<line x1="233.0" y1="1790.1" x2="253.0" y2="1790.1" stroke="#cdcdcd" stroke-width="3.2" />
<line x1="233.0" y1="1826.9" x2="253.0" y2="1826.9" stroke="#cdcdcd" stroke-width="3.2" />
<line x1="264.8" y1="1781.9" x2="264.8" y2="1818.8" stroke="#cdcdcd" stroke-width="3" />
<line x1="254.8" y1="1781.9" x2="274.8" y2="1781.9" stroke="#cdcdcd" stroke-width="3.2" />
<line x1="254.8" y1="1818.8" x2="274.8" y2="1818.8" stroke="#cdcdcd" stroke-width="3.2" />
<line x1="286.7" y1="1767.6" x2="286.7" y2="1804.4" stroke="#cdcdcd" stroke-width="3" />
<line x1="276.7" y1="1767.6" x2="296.7" y2="1767.6" stroke="#cdcdcd" stroke-width="3.2" />
<line x1="276.7" y1="1804.4" x2="296.7" y2="1804.4" stroke="#cdcdcd" stroke-width="3.2" />
<line x1="308.5" y1="1753.3" x2="308.5" y2="1790.1" stroke="#cdcdcd" stroke-width="3" />
<line x1="298.5" y1="1753.3" x2="318.5" y2="1753.3" stroke="#cdcdcd" stroke-width="3.2" />
<line x1="298.5" y1="1790.1" x2="318.5" y2="1790.1" stroke="#cdcdcd" stroke-width="3.2" />
<line x1="330.4" y1="1736.9" x2="330.4" y2="1773.8" stroke="#cdcdcd" stroke-width="3" />
<line x1="320.4" y1="1736.9" x2="340.4" y2="1736.9" stroke="#cdcdcd" stroke-width="3.2" />
<line x1="320.4" y1="1773.8" x2="340.4" y2="1773.8" stroke="#cdcdcd" stroke-width="3.2" />
<line x1="352.2" y1="1718.5" x2="352.2" y2="1759.4" stroke="#cdcdcd" stroke-width="3" />
<line x1="342.2" y1="1718.5" x2="362.2" y2="1718.5" stroke="#cdcdcd" stroke-width="3.2" />
<line x1="342.2" y1="1759.4" x2="362.2" y2="1759.4" stroke="#cdcdcd" stroke-width="3.2" />
<line x1="374.1" y1="1714.4" x2="374.1" y2="1755.3" stroke="#cdcdcd" stroke-width="3" />
<line x1="364.1" y1="1714.4" x2="384.1" y2="1714.4" stroke="#cdcdcd" stroke-width="3.2" />
<line x1="364.1" y1="1755.3" x2="384.1" y2="1755.3" stroke="#cdcdcd" stroke-width="3.2" />
<line x1="396.0" y1="1680.0" x2="396.0" y2="1741.4" stroke="#cdcdcd" stroke-width="3" />
<line x1="386.0" y1="1680.0" x2="406.0" y2="1680.0" stroke="#cdcdcd" stroke-width="3.2" />
<line x1="386.0" y1="1741.4" x2="406.0" y2="1741.4" stroke="#cdcdcd" stroke-width="3.2" />
<line x1="417.8" y1="1669.4" x2="417.8" y2="1730.8" stroke="#cdcdcd" stroke-width="3" />
<line x1="407.8" y1="1669.4" x2="427.8" y2="1669.4" stroke="#cdcdcd" stroke-width="3.2" />
<line x1="407.8" y1="1730.8" x2="427.8" y2="1730.8" stroke="#cdcdcd" stroke-width="3.2" />
<line x1="439.7" y1="1677.6" x2="439.7" y2="1739.0" stroke="#cdcdcd" stroke-width="3" />
<line x1="429.7" y1="1677.6" x2="449.7" y2="1677.6" stroke="#cdcdcd" stroke-width="3.2" />
<line x1="429.7" y1="1739.0" x2="449.7" y2="1739.0" stroke="#cdcdcd" stroke-width="3.2" />
<line x1="461.5" y1="1678.8" x2="461.5" y2="1740.2" stroke="#cdcdcd" stroke-width="3" />
<line x1="451.5" y1="1678.8" x2="471.5" y2="1678.8" stroke="#cdcdcd" stroke-width="3.2" />
<line x1="451.5" y1="1740.2" x2="471.5" y2="1740.2" stroke="#cdcdcd" stroke-width="3.2" />
<line x1="483.4" y1="1671.4" x2="483.4" y2="1732.9" stroke="#cdcdcd" stroke-width="3" />
<line x1="473.4" y1="1671.4" x2="493.4" y2="1671.4" stroke="#cdcdcd" stroke-width="3.2" />
<line x1="473.4" y1="1732.9" x2="493.4" y2="1732.9" stroke="#cdcdcd" stroke-width="3.2" />
<line x1="505.2" y1="1673.5" x2="505.2" y2="1734.9" stroke="#cdcdcd" stroke-width="3" />
<line x1="495.2" y1="1673.5" x2="515.2" y2="1673.5" stroke="#cdcdcd" stroke-width="3.2" />
<line x1="495.2" y1="1734.9" x2="515.2" y2="1734.9" stroke="#cdcdcd" stroke-width="3.2" />
<line x1="527.1" y1="1662.4" x2="527.1" y2="1723.9" stroke="#cdcdcd" stroke-width="3" />
<line x1="517.1" y1="1662.4" x2="537.1" y2="1662.4" stroke="#cdcdcd" stroke-width="3.2" />
<line x1="517.1" y1="1723.9" x2="537.1" y2="1723.9" stroke="#cdcdcd" stroke-width="3.2" />
<line x1="548.9" y1="1655.1" x2="548.9" y2="1716.5" stroke="#cdcdcd" stroke-width="3" />
<line x1="538.9" y1="1655.1" x2="558.9" y2="1655.1" stroke="#cdcdcd" stroke-width="3.2" />
<line x1="538.9" y1="1716.5" x2="558.9" y2="1716.5" stroke="#cdcdcd" stroke-width="3.2" />
<line x1="570.8" y1="1661.2" x2="570.8" y2="1722.6" stroke="#cdcdcd" stroke-width="3" />
<line x1="560.8" y1="1661.2" x2="580.8" y2="1661.2" stroke="#cdcdcd" stroke-width="3.2" />
<line x1="560.8" y1="1722.6" x2="580.8" y2="1722.6" stroke="#cdcdcd" stroke-width="3.2" />
<line x1="592.6" y1="1651.0" x2="592.6" y2="1712.4" stroke="#cdcdcd" stroke-width="3" />
<line x1="582.6" y1="1651.0" x2="602.6" y2="1651.0" stroke="#cdcdcd" stroke-width="3.2" />
<line x1="582.6" y1="1712.4" x2="602.6" y2="1712.4" stroke="#cdcdcd" stroke-width="3.2" />
<line x1="614.5" y1="1648.9" x2="614.5" y2="1710.4" stroke="#cdcdcd" stroke-width="3" />
<line x1="604.5" y1="1648.9" x2="624.5" y2="1648.9" stroke="#cdcdcd" stroke-width="3.2" />
<line x1="604.5" y1="1710.4" x2="624.5" y2="1710.4" stroke="#cdcdcd" stroke-width="3.2" />
<line x1="636.4" y1="1646.1" x2="636.4" y2="1707.5" stroke="#cdcdcd" stroke-width="3" />
<line x1="626.4" y1="1646.1" x2="646.4" y2="1646.1" stroke="#cdcdcd" stroke-width="3.2" />
<line x1="626.4" y1="1707.5" x2="646.4" y2="1707.5" stroke="#cdcdcd" stroke-width="3.2" />
<line x1="658.2" y1="1642.0" x2="658.2" y2="1703.4" stroke="#cdcdcd" stroke-width="3" />
<line x1="648.2" y1="1642.0" x2="668.2" y2="1642.0" stroke="#cdcdcd" stroke-width="3.2" />
<line x1="648.2" y1="1703.4" x2="668.2" y2="1703.4" stroke="#cdcdcd" stroke-width="3.2" />
<line x1="680.1" y1="1637.1" x2="680.1" y2="1698.5" stroke="#cdcdcd" stroke-width="3" />
<line x1="670.1" y1="1637.1" x2="690.1" y2="1637.1" stroke="#cdcdcd" stroke-width="3.2" />
<line x1="670.1" y1="1698.5" x2="690.1" y2="1698.5" stroke="#cdcdcd" stroke-width="3.2" />
<line x1="701.9" y1="1629.3" x2="701.9" y2="1690.7" stroke="#cdcdcd" stroke-width="3" />
<line x1="691.9" y1="1629.3" x2="711.9" y2="1629.3" stroke="#cdcdcd" stroke-width="3.2" />
<line x1="691.9" y1="1690.7" x2="711.9" y2="1690.7" stroke="#cdcdcd" stroke-width="3.2" />
<line x1="723.8" y1="1605.2" x2="723.8" y2="1678.9" stroke="#cdcdcd" stroke-width="3" />
<line x1="713.8" y1="1605.2" x2="733.8" y2="1605.2" stroke="#cdcdcd" stroke-width="3.2" />
<line x1="713.8" y1="1678.9" x2="733.8" y2="1678.9" stroke="#cdcdcd" stroke-width="3.2" />
<line x1="745.6" y1="1561.0" x2="745.6" y2="1634.7" stroke="#cdcdcd" stroke-width="3" />
<line x1="735.6" y1="1561.0" x2="755.6" y2="1561.0" stroke="#cdcdcd" stroke-width="3.2" />
<line x1="735.6" y1="1634.7" x2="755.6" y2="1634.7" stroke="#cdcdcd" stroke-width="3.2" />
<line x1="767.5" y1="1538.5" x2="767.5" y2="1612.2" stroke="#cdcdcd" stroke-width="3" />
<line x1="757.5" y1="1538.5" x2="777.5" y2="1538.5" stroke="#cdcdcd" stroke-width="3.2" />
<line x1="757.5" y1="1612.2" x2="777.5" y2="1612.2" stroke="#cdcdcd" stroke-width="3.2" />
<line x1="789.3" y1="1509.4" x2="789.3" y2="1583.1" stroke="#cdcdcd" stroke-width="3" />
<line x1="779.3" y1="1509.4" x2="799.3" y2="1509.4" stroke="#cdcdcd" stroke-width="3.2" />
<line x1="779.3" y1="1583.1" x2="799.3" y2="1583.1" stroke="#cdcdcd" stroke-width="3.2" />
<line x1="811.2" y1="1455.9" x2="811.2" y2="1529.5" stroke="#cdcdcd" stroke-width="3" />
<line x1="801.2" y1="1455.9" x2="821.2" y2="1455.9" stroke="#cdcdcd" stroke-width="3.2" />
<line x1="801.2" y1="1529.5" x2="821.2" y2="1529.5" stroke="#cdcdcd" stroke-width="3.2" />
<line x1="833.1" y1="1417.8" x2="833.1" y2="1491.5" stroke="#cdcdcd" stroke-width="3" />
<line x1="823.1" y1="1417.8" x2="843.1" y2="1417.8" stroke="#cdcdcd" stroke-width="3.2" />
<line x1="823.1" y1="1491.5" x2="843.1" y2="1491.5" stroke="#cdcdcd" stroke-width="3.2" />
<line x1="854.9" y1="1404.7" x2="854.9" y2="1478.4" stroke="#cdcdcd" stroke-width="3" />
<line x1="844.9" y1="1404.7" x2="864.9" y2="1404.7" stroke="#cdcdcd" stroke-width="3.2" />
<line x1="844.9" y1="1478.4" x2="864.9" y2="1478.4" stroke="#cdcdcd" stroke-width="3.2" />
<line x1="876.8" y1="1403.5" x2="876.8" y2="1477.2" stroke="#cdcdcd" stroke-width="3" />
<line x1="866.8" y1="1403.5" x2="886.8" y2="1403.5" stroke="#cdcdcd" stroke-width="3.2" />
<line x1="866.8" y1="1477.2" x2="886.8" y2="1477.2" stroke="#cdcdcd" stroke-width="3.2" />
<line x1="898.6" y1="1368.7" x2="898.6" y2="1442.4" stroke="#cdcdcd" stroke-width="3" />
<line x1="888.6" y1="1368.7" x2="908.6" y2="1368.7" stroke="#cdcdcd" stroke-width="3.2" />
<line x1="888.6" y1="1442.4" x2="908.6" y2="1442.4" stroke="#cdcdcd" stroke-width="3.2" />
<line x1="920.5" y1="1368.3" x2="920.5" y2="1442.0" stroke="#cdcdcd" stroke-width="3" />
<line x1="910.5" y1="1368.3" x2="930.5" y2="1368.3" stroke="#cdcdcd" stroke-width="3.2" />
<line x1="910.5" y1="1442.0" x2="930.5" y2="1442.0" stroke="#cdcdcd" stroke-width="3.2" />
<line x1="942.3" y1="1362.2" x2="942.3" y2="1435.9" stroke="#cdcdcd" stroke-width="3" />
<line x1="932.3" y1="1362.2" x2="952.3" y2="1362.2" stroke="#cdcdcd" stroke-width="3.2" />
<line x1="932.3" y1="1435.9" x2="952.3" y2="1435.9" stroke="#cdcdcd" stroke-width="3.2" />
<line x1="964.2" y1="1353.2" x2="964.2" y2="1426.9" stroke="#cdcdcd" stroke-width="3" />
<line x1="954.2" y1="1353.2" x2="974.2" y2="1353.2" stroke="#cdcdcd" stroke-width="3.2" />
<line x1="954.2" y1="1426.9" x2="974.2" y2="1426.9" stroke="#cdcdcd" stroke-width="3.2" />
<line x1="986.0" y1="1347.0" x2="986.0" y2="1420.7" stroke="#cdcdcd" stroke-width="3" />
<line x1="976.0" y1="1347.0" x2="996.0" y2="1347.0" stroke="#cdcdcd" stroke-width="3.2" />
<line x1="976.0" y1="1420.7" x2="996.0" y2="1420.7" stroke="#cdcdcd" stroke-width="3.2" />
<line x1="1007.9" y1="1342.1" x2="1007.9" y2="1415.8" stroke="#cdcdcd" stroke-width="3" />
<line x1="997.9" y1="1342.1" x2="1017.9" y2="1342.1" stroke="#cdcdcd" stroke-width="3.2" />
<line x1="997.9" y1="1415.8" x2="1017.9" y2="1415.8" stroke="#cdcdcd" stroke-width="3.2" />
<line x1="1029.7" y1="1340.5" x2="1029.7" y2="1414.2" stroke="#cdcdcd" stroke-width="3" />
<line x1="1019.7" y1="1340.5" x2="1039.7" y2="1340.5" stroke="#cdcdcd" stroke-width="3.2" />
<line x1="1019.7" y1="1414.2" x2="1039.7" y2="1414.2" stroke="#cdcdcd" stroke-width="3.2" />
<line x1="1051.6" y1="1345.8" x2="1051.6" y2="1419.5" stroke="#cdcdcd" stroke-width="3" />
<line x1="1041.6" y1="1345.8" x2="1061.6" y2="1345.8" stroke="#cdcdcd" stroke-width="3.2" />
<line x1="1041.6" y1="1419.5" x2="1061.6" y2="1419.5" stroke="#cdcdcd" stroke-width="3.2" />
<line x1="1073.5" y1="1338.0" x2="1073.5" y2="1411.7" stroke="#cdcdcd" stroke-width="3" />
<line x1="1063.5" y1="1338.0" x2="1083.5" y2="1338.0" stroke="#cdcdcd" stroke-width="3.2" />
<line x1="1063.5" y1="1411.7" x2="1083.5" y2="1411.7" stroke="#cdcdcd" stroke-width="3.2" />
<line x1="1095.3" y1="1344.6" x2="1095.3" y2="1418.3" stroke="#cdcdcd" stroke-width="3" />
<line x1="1085.3" y1="1344.6" x2="1105.3" y2="1344.6" stroke="#cdcdcd" stroke-width="3.2" />
<line x1="1085.3" y1="1418.3" x2="1105.3" y2="1418.3" stroke="#cdcdcd" stroke-width="3.2" />
<line x1="1117.2" y1="1336.8" x2="1117.2" y2="1410.5" stroke="#cdcdcd" stroke-width="3" />
<line x1="1107.2" y1="1336.8" x2="1127.2" y2="1336.8" stroke="#cdcdcd" stroke-width="3.2" />
<line x1="1107.2" y1="1410.5" x2="1127.2" y2="1410.5" stroke="#cdcdcd" stroke-width="3.2" />
<line x1="1139.0" y1="1333.1" x2="1139.0" y2="1406.8" stroke="#cdcdcd" stroke-width="3" />
<line x1="1129.0" y1="1333.1" x2="1149.0" y2="1333.1" stroke="#cdcdcd" stroke-width="3.2" />
<line x1="1129.0" y1="1406.8" x2="1149.0" y2="1406.8" stroke="#cdcdcd" stroke-width="3.2" />
<line x1="1160.9" y1="1331.9" x2="1160.9" y2="1405.6" stroke="#cdcdcd" stroke-width="3" />
<line x1="1150.9" y1="1331.9" x2="1170.9" y2="1331.9" stroke="#cdcdcd" stroke-width="3.2" />
<line x1="1150.9" y1="1405.6" x2="1170.9" y2="1405.6" stroke="#cdcdcd" stroke-width="3.2" />
<line x1="1182.7" y1="1331.9" x2="1182.7" y2="1405.6" stroke="#cdcdcd" stroke-width="3" />
<line x1="1172.7" y1="1331.9" x2="1192.7" y2="1331.9" stroke="#cdcdcd" stroke-width="3.2" />
<line x1="1172.7" y1="1405.6" x2="1192.7" y2="1405.6" stroke="#cdcdcd" stroke-width="3.2" />
<line x1="1204.6" y1="1325.8" x2="1204.6" y2="1399.5" stroke="#cdcdcd" stroke-width="3" />
<line x1="1194.6" y1="1325.8" x2="1214.6" y2="1325.8" stroke="#cdcdcd" stroke-width="3.2" />
<line x1="1194.6" y1="1399.5" x2="1214.6" y2="1399.5" stroke="#cdcdcd" stroke-width="3.2" />
<line x1="176.4" y1="1865.0" x2="176.4" y2="1893.6" stroke="#6e6e6e" stroke-width="2.6" />
<line x1="166.4" y1="1865.0" x2="186.4" y2="1865.0" stroke="#6e6e6e" stroke-width="3" />
<line x1="166.4" y1="1893.6" x2="186.4" y2="1893.6" stroke="#6e6e6e" stroke-width="3" />
<line x1="198.3" y1="1815.9" x2="198.3" y2="1844.5" stroke="#6e6e6e" stroke-width="2.6" />
<line x1="188.3" y1="1815.9" x2="208.3" y2="1815.9" stroke="#6e6e6e" stroke-width="3" />
<line x1="188.3" y1="1844.5" x2="208.3" y2="1844.5" stroke="#6e6e6e" stroke-width="3" />
<line x1="220.1" y1="1798.3" x2="220.1" y2="1826.9" stroke="#6e6e6e" stroke-width="2.6" />
<line x1="210.1" y1="1798.3" x2="230.1" y2="1798.3" stroke="#6e6e6e" stroke-width="3" />
<line x1="210.1" y1="1826.9" x2="230.1" y2="1826.9" stroke="#6e6e6e" stroke-width="3" />
<line x1="242.0" y1="1788.9" x2="242.0" y2="1817.5" stroke="#6e6e6e" stroke-width="2.6" />
<line x1="232.0" y1="1788.9" x2="252.0" y2="1788.9" stroke="#6e6e6e" stroke-width="3" />
<line x1="232.0" y1="1817.5" x2="252.0" y2="1817.5" stroke="#6e6e6e" stroke-width="3" />
<line x1="263.8" y1="1778.6" x2="263.8" y2="1807.3" stroke="#6e6e6e" stroke-width="2.6" />
<line x1="253.8" y1="1778.6" x2="273.8" y2="1778.6" stroke="#6e6e6e" stroke-width="3" />
<line x1="253.8" y1="1807.3" x2="273.8" y2="1807.3" stroke="#6e6e6e" stroke-width="3" />
<line x1="285.7" y1="1779.5" x2="285.7" y2="1808.1" stroke="#6e6e6e" stroke-width="2.6" />
<line x1="275.7" y1="1779.5" x2="295.7" y2="1779.5" stroke="#6e6e6e" stroke-width="3" />
<line x1="275.7" y1="1808.1" x2="295.7" y2="1808.1" stroke="#6e6e6e" stroke-width="3" />
<line x1="307.5" y1="1779.5" x2="307.5" y2="1808.1" stroke="#6e6e6e" stroke-width="2.6" />
<line x1="297.5" y1="1779.5" x2="317.5" y2="1779.5" stroke="#6e6e6e" stroke-width="3" />
<line x1="297.5" y1="1808.1" x2="317.5" y2="1808.1" stroke="#6e6e6e" stroke-width="3" />
<line x1="329.4" y1="1766.0" x2="329.4" y2="1794.6" stroke="#6e6e6e" stroke-width="2.6" />
<line x1="319.4" y1="1766.0" x2="339.4" y2="1766.0" stroke="#6e6e6e" stroke-width="3" />
<line x1="319.4" y1="1794.6" x2="339.4" y2="1794.6" stroke="#6e6e6e" stroke-width="3" />
<line x1="351.2" y1="1777.8" x2="351.2" y2="1818.8" stroke="#6e6e6e" stroke-width="2.6" />
<line x1="341.2" y1="1777.8" x2="361.2" y2="1777.8" stroke="#6e6e6e" stroke-width="3" />
<line x1="341.2" y1="1818.8" x2="361.2" y2="1818.8" stroke="#6e6e6e" stroke-width="3" />
<line x1="373.1" y1="1763.5" x2="373.1" y2="1804.4" stroke="#6e6e6e" stroke-width="2.6" />
<line x1="363.1" y1="1763.5" x2="383.1" y2="1763.5" stroke="#6e6e6e" stroke-width="3" />
<line x1="363.1" y1="1804.4" x2="383.1" y2="1804.4" stroke="#6e6e6e" stroke-width="3" />
<line x1="395.0" y1="1755.3" x2="395.0" y2="1796.3" stroke="#6e6e6e" stroke-width="2.6" />
<line x1="385.0" y1="1755.3" x2="405.0" y2="1755.3" stroke="#6e6e6e" stroke-width="3" />
<line x1="385.0" y1="1796.3" x2="405.0" y2="1796.3" stroke="#6e6e6e" stroke-width="3" />
<line x1="416.8" y1="1763.5" x2="416.8" y2="1804.4" stroke="#6e6e6e" stroke-width="2.6" />
<line x1="406.8" y1="1763.5" x2="426.8" y2="1763.5" stroke="#6e6e6e" stroke-width="3" />
<line x1="406.8" y1="1804.4" x2="426.8" y2="1804.4" stroke="#6e6e6e" stroke-width="3" />
<line x1="438.7" y1="1756.1" x2="438.7" y2="1797.1" stroke="#6e6e6e" stroke-width="2.6" />
<line x1="428.7" y1="1756.1" x2="448.7" y2="1756.1" stroke="#6e6e6e" stroke-width="3" />
<line x1="428.7" y1="1797.1" x2="448.7" y2="1797.1" stroke="#6e6e6e" stroke-width="3" />
<line x1="460.5" y1="1736.9" x2="460.5" y2="1777.8" stroke="#6e6e6e" stroke-width="2.6" />
<line x1="450.5" y1="1736.9" x2="470.5" y2="1736.9" stroke="#6e6e6e" stroke-width="3" />
<line x1="450.5" y1="1777.8" x2="470.5" y2="1777.8" stroke="#6e6e6e" stroke-width="3" />
<line x1="482.4" y1="1745.9" x2="482.4" y2="1786.8" stroke="#6e6e6e" stroke-width="2.6" />
<line x1="472.4" y1="1745.9" x2="492.4" y2="1745.9" stroke="#6e6e6e" stroke-width="3" />
<line x1="472.4" y1="1786.8" x2="492.4" y2="1786.8" stroke="#6e6e6e" stroke-width="3" />
<line x1="504.2" y1="1749.6" x2="504.2" y2="1790.5" stroke="#6e6e6e" stroke-width="2.6" />
<line x1="494.2" y1="1749.6" x2="514.2" y2="1749.6" stroke="#6e6e6e" stroke-width="3" />
<line x1="494.2" y1="1790.5" x2="514.2" y2="1790.5" stroke="#6e6e6e" stroke-width="3" />
<line x1="526.1" y1="1745.9" x2="526.1" y2="1786.8" stroke="#6e6e6e" stroke-width="2.6" />
<line x1="516.1" y1="1745.9" x2="536.1" y2="1745.9" stroke="#6e6e6e" stroke-width="3" />
<line x1="516.1" y1="1786.8" x2="536.1" y2="1786.8" stroke="#6e6e6e" stroke-width="3" />
<line x1="547.9" y1="1741.8" x2="547.9" y2="1782.8" stroke="#6e6e6e" stroke-width="2.6" />
<line x1="537.9" y1="1741.8" x2="557.9" y2="1741.8" stroke="#6e6e6e" stroke-width="3" />
<line x1="537.9" y1="1782.8" x2="557.9" y2="1782.8" stroke="#6e6e6e" stroke-width="3" />
<line x1="569.8" y1="1741.8" x2="569.8" y2="1782.8" stroke="#6e6e6e" stroke-width="2.6" />
<line x1="559.8" y1="1741.8" x2="579.8" y2="1741.8" stroke="#6e6e6e" stroke-width="3" />
<line x1="559.8" y1="1782.8" x2="579.8" y2="1782.8" stroke="#6e6e6e" stroke-width="3" />
<line x1="591.6" y1="1735.7" x2="591.6" y2="1776.6" stroke="#6e6e6e" stroke-width="2.6" />
<line x1="581.6" y1="1735.7" x2="601.6" y2="1735.7" stroke="#6e6e6e" stroke-width="3" />
<line x1="581.6" y1="1776.6" x2="601.6" y2="1776.6" stroke="#6e6e6e" stroke-width="3" />
<line x1="613.5" y1="1735.7" x2="613.5" y2="1776.6" stroke="#6e6e6e" stroke-width="2.6" />
<line x1="603.5" y1="1735.7" x2="623.5" y2="1735.7" stroke="#6e6e6e" stroke-width="3" />
<line x1="603.5" y1="1776.6" x2="623.5" y2="1776.6" stroke="#6e6e6e" stroke-width="3" />
<line x1="635.4" y1="1735.7" x2="635.4" y2="1776.6" stroke="#6e6e6e" stroke-width="2.6" />
<line x1="625.4" y1="1735.7" x2="645.4" y2="1735.7" stroke="#6e6e6e" stroke-width="3" />
<line x1="625.4" y1="1776.6" x2="645.4" y2="1776.6" stroke="#6e6e6e" stroke-width="3" />
<line x1="657.2" y1="1726.7" x2="657.2" y2="1767.6" stroke="#6e6e6e" stroke-width="2.6" />
<line x1="647.2" y1="1726.7" x2="667.2" y2="1726.7" stroke="#6e6e6e" stroke-width="3" />
<line x1="647.2" y1="1767.6" x2="667.2" y2="1767.6" stroke="#6e6e6e" stroke-width="3" />
<line x1="679.1" y1="1725.5" x2="679.1" y2="1766.4" stroke="#6e6e6e" stroke-width="2.6" />
<line x1="669.1" y1="1725.5" x2="689.1" y2="1725.5" stroke="#6e6e6e" stroke-width="3" />
<line x1="669.1" y1="1766.4" x2="689.1" y2="1766.4" stroke="#6e6e6e" stroke-width="3" />
<line x1="700.9" y1="1724.2" x2="700.9" y2="1765.2" stroke="#6e6e6e" stroke-width="2.6" />
<line x1="690.9" y1="1724.2" x2="710.9" y2="1724.2" stroke="#6e6e6e" stroke-width="3" />
<line x1="690.9" y1="1765.2" x2="710.9" y2="1765.2" stroke="#6e6e6e" stroke-width="3" />
<line x1="722.8" y1="1681.7" x2="722.8" y2="1763.5" stroke="#6e6e6e" stroke-width="2.6" />
<line x1="712.8" y1="1681.7" x2="732.8" y2="1681.7" stroke="#6e6e6e" stroke-width="3" />
<line x1="712.8" y1="1763.5" x2="732.8" y2="1763.5" stroke="#6e6e6e" stroke-width="3" />
<line x1="744.6" y1="1654.7" x2="744.6" y2="1736.5" stroke="#6e6e6e" stroke-width="2.6" />
<line x1="734.6" y1="1654.7" x2="754.6" y2="1654.7" stroke="#6e6e6e" stroke-width="3" />
<line x1="734.6" y1="1736.5" x2="754.6" y2="1736.5" stroke="#6e6e6e" stroke-width="3" />
<line x1="766.5" y1="1628.1" x2="766.5" y2="1710.0" stroke="#6e6e6e" stroke-width="2.6" />
<line x1="756.5" y1="1628.1" x2="776.5" y2="1628.1" stroke="#6e6e6e" stroke-width="3" />
<line x1="756.5" y1="1710.0" x2="776.5" y2="1710.0" stroke="#6e6e6e" stroke-width="3" />
<line x1="788.3" y1="1592.1" x2="788.3" y2="1674.0" stroke="#6e6e6e" stroke-width="2.6" />
<line x1="778.3" y1="1592.1" x2="798.3" y2="1592.1" stroke="#6e6e6e" stroke-width="3" />
<line x1="778.3" y1="1674.0" x2="798.3" y2="1674.0" stroke="#6e6e6e" stroke-width="3" />
<line x1="810.2" y1="1561.0" x2="810.2" y2="1642.9" stroke="#6e6e6e" stroke-width="2.6" />
<line x1="800.2" y1="1561.0" x2="820.2" y2="1561.0" stroke="#6e6e6e" stroke-width="3" />
<line x1="800.2" y1="1642.9" x2="820.2" y2="1642.9" stroke="#6e6e6e" stroke-width="3" />
<line x1="832.1" y1="1509.9" x2="832.1" y2="1591.7" stroke="#6e6e6e" stroke-width="2.6" />
<line x1="822.1" y1="1509.9" x2="842.1" y2="1509.9" stroke="#6e6e6e" stroke-width="3" />
<line x1="822.1" y1="1591.7" x2="842.1" y2="1591.7" stroke="#6e6e6e" stroke-width="3" />
<line x1="853.9" y1="1486.5" x2="853.9" y2="1552.0" stroke="#6e6e6e" stroke-width="2.6" />
<line x1="843.9" y1="1486.5" x2="863.9" y2="1486.5" stroke="#6e6e6e" stroke-width="3" />
<line x1="843.9" y1="1552.0" x2="863.9" y2="1552.0" stroke="#6e6e6e" stroke-width="3" />
<line x1="875.8" y1="1461.2" x2="875.8" y2="1526.7" stroke="#6e6e6e" stroke-width="2.6" />
<line x1="865.8" y1="1461.2" x2="885.8" y2="1461.2" stroke="#6e6e6e" stroke-width="3" />
<line x1="865.8" y1="1526.7" x2="885.8" y2="1526.7" stroke="#6e6e6e" stroke-width="3" />
<line x1="897.6" y1="1443.2" x2="897.6" y2="1508.7" stroke="#6e6e6e" stroke-width="2.6" />
<line x1="887.6" y1="1443.2" x2="907.6" y2="1443.2" stroke="#6e6e6e" stroke-width="3" />
<line x1="887.6" y1="1508.7" x2="907.6" y2="1508.7" stroke="#6e6e6e" stroke-width="3" />
<line x1="919.5" y1="1428.9" x2="919.5" y2="1494.4" stroke="#6e6e6e" stroke-width="2.6" />
<line x1="909.5" y1="1428.9" x2="929.5" y2="1428.9" stroke="#6e6e6e" stroke-width="3" />
<line x1="909.5" y1="1494.4" x2="929.5" y2="1494.4" stroke="#6e6e6e" stroke-width="3" />
<line x1="941.3" y1="1434.2" x2="941.3" y2="1499.7" stroke="#6e6e6e" stroke-width="2.6" />
<line x1="931.3" y1="1434.2" x2="951.3" y2="1434.2" stroke="#6e6e6e" stroke-width="3" />
<line x1="931.3" y1="1499.7" x2="951.3" y2="1499.7" stroke="#6e6e6e" stroke-width="3" />
<line x1="963.2" y1="1457.5" x2="963.2" y2="1523.0" stroke="#6e6e6e" stroke-width="2.6" />
<line x1="953.2" y1="1457.5" x2="973.2" y2="1457.5" stroke="#6e6e6e" stroke-width="3" />
<line x1="953.2" y1="1523.0" x2="973.2" y2="1523.0" stroke="#6e6e6e" stroke-width="3" />
<line x1="985.0" y1="1443.6" x2="985.0" y2="1509.1" stroke="#6e6e6e" stroke-width="2.6" />
<line x1="975.0" y1="1443.6" x2="995.0" y2="1443.6" stroke="#6e6e6e" stroke-width="3" />
<line x1="975.0" y1="1509.1" x2="995.0" y2="1509.1" stroke="#6e6e6e" stroke-width="3" />
<line x1="1006.9" y1="1456.3" x2="1006.9" y2="1521.8" stroke="#6e6e6e" stroke-width="2.6" />
<line x1="996.9" y1="1456.3" x2="1016.9" y2="1456.3" stroke="#6e6e6e" stroke-width="3" />
<line x1="996.9" y1="1521.8" x2="1016.9" y2="1521.8" stroke="#6e6e6e" stroke-width="3" />
<line x1="1028.7" y1="1466.1" x2="1028.7" y2="1531.6" stroke="#6e6e6e" stroke-width="2.6" />
<line x1="1018.7" y1="1466.1" x2="1038.7" y2="1466.1" stroke="#6e6e6e" stroke-width="3" />
<line x1="1018.7" y1="1531.6" x2="1038.7" y2="1531.6" stroke="#6e6e6e" stroke-width="3" />
<line x1="1050.6" y1="1484.9" x2="1050.6" y2="1550.4" stroke="#6e6e6e" stroke-width="2.6" />
<line x1="1040.6" y1="1484.9" x2="1060.6" y2="1484.9" stroke="#6e6e6e" stroke-width="3" />
<line x1="1040.6" y1="1550.4" x2="1060.6" y2="1550.4" stroke="#6e6e6e" stroke-width="3" />
<line x1="1072.5" y1="1474.7" x2="1072.5" y2="1540.2" stroke="#6e6e6e" stroke-width="2.6" />
<line x1="1062.5" y1="1474.7" x2="1082.5" y2="1474.7" stroke="#6e6e6e" stroke-width="3" />
<line x1="1062.5" y1="1540.2" x2="1082.5" y2="1540.2" stroke="#6e6e6e" stroke-width="3" />
<line x1="1094.3" y1="1474.7" x2="1094.3" y2="1540.2" stroke="#6e6e6e" stroke-width="2.6" />
<line x1="1084.3" y1="1474.7" x2="1104.3" y2="1474.7" stroke="#6e6e6e" stroke-width="3" />
<line x1="1084.3" y1="1540.2" x2="1104.3" y2="1540.2" stroke="#6e6e6e" stroke-width="3" />
<line x1="1116.2" y1="1458.7" x2="1116.2" y2="1524.2" stroke="#6e6e6e" stroke-width="2.6" />
<line x1="1106.2" y1="1458.7" x2="1126.2" y2="1458.7" stroke="#6e6e6e" stroke-width="3" />
<line x1="1106.2" y1="1524.2" x2="1126.2" y2="1524.2" stroke="#6e6e6e" stroke-width="3" />
<line x1="1138.0" y1="1459.9" x2="1138.0" y2="1525.5" stroke="#6e6e6e" stroke-width="2.6" />
<line x1="1128.0" y1="1459.9" x2="1148.0" y2="1459.9" stroke="#6e6e6e" stroke-width="3" />
<line x1="1128.0" y1="1525.5" x2="1148.0" y2="1525.5" stroke="#6e6e6e" stroke-width="3" />
<line x1="1159.9" y1="1467.3" x2="1159.9" y2="1532.8" stroke="#6e6e6e" stroke-width="2.6" />
<line x1="1149.9" y1="1467.3" x2="1169.9" y2="1467.3" stroke="#6e6e6e" stroke-width="3" />
<line x1="1149.9" y1="1532.8" x2="1169.9" y2="1532.8" stroke="#6e6e6e" stroke-width="3" />
<line x1="1181.7" y1="1461.2" x2="1181.7" y2="1526.7" stroke="#6e6e6e" stroke-width="2.6" />
<line x1="1171.7" y1="1461.2" x2="1191.7" y2="1461.2" stroke="#6e6e6e" stroke-width="3" />
<line x1="1171.7" y1="1526.7" x2="1191.7" y2="1526.7" stroke="#6e6e6e" stroke-width="3" />
<line x1="1203.6" y1="1456.3" x2="1203.6" y2="1521.8" stroke="#6e6e6e" stroke-width="2.6" />
<line x1="1193.6" y1="1456.3" x2="1213.6" y2="1456.3" stroke="#6e6e6e" stroke-width="3" />
<line x1="1193.6" y1="1521.8" x2="1213.6" y2="1521.8" stroke="#6e6e6e" stroke-width="3" />
<line x1="176.4" y1="1837.5" x2="176.4" y2="1866.2" stroke="#777" stroke-width="2.6" />
<line x1="166.4" y1="1837.5" x2="186.4" y2="1837.5" stroke="#777" stroke-width="3" />
<line x1="166.4" y1="1866.2" x2="186.4" y2="1866.2" stroke="#777" stroke-width="3" />
<line x1="198.3" y1="1809.7" x2="198.3" y2="1838.4" stroke="#777" stroke-width="2.6" />
<line x1="188.3" y1="1809.7" x2="208.3" y2="1809.7" stroke="#777" stroke-width="3" />
<line x1="188.3" y1="1838.4" x2="208.3" y2="1838.4" stroke="#777" stroke-width="3" />
<line x1="220.1" y1="1772.5" x2="220.1" y2="1801.2" stroke="#777" stroke-width="2.6" />
<line x1="210.1" y1="1772.5" x2="230.1" y2="1772.5" stroke="#777" stroke-width="3" />
<line x1="210.1" y1="1801.2" x2="230.1" y2="1801.2" stroke="#777" stroke-width="3" />
<line x1="242.0" y1="1771.7" x2="242.0" y2="1800.3" stroke="#777" stroke-width="2.6" />
<line x1="232.0" y1="1771.7" x2="252.0" y2="1771.7" stroke="#777" stroke-width="3" />
<line x1="232.0" y1="1800.3" x2="252.0" y2="1800.3" stroke="#777" stroke-width="3" />
<line x1="263.8" y1="1763.1" x2="263.8" y2="1791.8" stroke="#777" stroke-width="2.6" />
<line x1="253.8" y1="1763.1" x2="273.8" y2="1763.1" stroke="#777" stroke-width="3" />
<line x1="253.8" y1="1791.8" x2="273.8" y2="1791.8" stroke="#777" stroke-width="3" />
<line x1="285.7" y1="1746.7" x2="285.7" y2="1775.4" stroke="#777" stroke-width="2.6" />
<line x1="275.7" y1="1746.7" x2="295.7" y2="1746.7" stroke="#777" stroke-width="3" />
<line x1="275.7" y1="1775.4" x2="295.7" y2="1775.4" stroke="#777" stroke-width="3" />
<line x1="307.5" y1="1738.1" x2="307.5" y2="1766.8" stroke="#777" stroke-width="2.6" />
<line x1="297.5" y1="1738.1" x2="317.5" y2="1738.1" stroke="#777" stroke-width="3" />
<line x1="297.5" y1="1766.8" x2="317.5" y2="1766.8" stroke="#777" stroke-width="3" />
<line x1="329.4" y1="1728.3" x2="329.4" y2="1757.0" stroke="#777" stroke-width="2.6" />
<line x1="319.4" y1="1728.3" x2="339.4" y2="1728.3" stroke="#777" stroke-width="3" />
<line x1="319.4" y1="1757.0" x2="339.4" y2="1757.0" stroke="#777" stroke-width="3" />
<line x1="351.2" y1="1692.3" x2="351.2" y2="1737.3" stroke="#777" stroke-width="2.6" />
<line x1="341.2" y1="1692.3" x2="361.2" y2="1692.3" stroke="#777" stroke-width="3" />
<line x1="341.2" y1="1737.3" x2="361.2" y2="1737.3" stroke="#777" stroke-width="3" />
<line x1="373.1" y1="1693.1" x2="373.1" y2="1738.2" stroke="#777" stroke-width="2.6" />
<line x1="363.1" y1="1693.1" x2="383.1" y2="1693.1" stroke="#777" stroke-width="3" />
<line x1="363.1" y1="1738.2" x2="383.1" y2="1738.2" stroke="#777" stroke-width="3" />
<line x1="395.0" y1="1679.6" x2="395.0" y2="1724.7" stroke="#777" stroke-width="2.6" />
<line x1="385.0" y1="1679.6" x2="405.0" y2="1679.6" stroke="#777" stroke-width="3" />
<line x1="385.0" y1="1724.7" x2="405.0" y2="1724.7" stroke="#777" stroke-width="3" />
<line x1="416.8" y1="1673.5" x2="416.8" y2="1718.5" stroke="#777" stroke-width="2.6" />
<line x1="406.8" y1="1673.5" x2="426.8" y2="1673.5" stroke="#777" stroke-width="3" />
<line x1="406.8" y1="1718.5" x2="426.8" y2="1718.5" stroke="#777" stroke-width="3" />
<line x1="438.7" y1="1682.5" x2="438.7" y2="1727.5" stroke="#777" stroke-width="2.6" />
<line x1="428.7" y1="1682.5" x2="448.7" y2="1682.5" stroke="#777" stroke-width="3" />
<line x1="428.7" y1="1727.5" x2="448.7" y2="1727.5" stroke="#777" stroke-width="3" />
<line x1="460.5" y1="1682.5" x2="460.5" y2="1727.5" stroke="#777" stroke-width="2.6" />
<line x1="450.5" y1="1682.5" x2="470.5" y2="1682.5" stroke="#777" stroke-width="3" />
<line x1="450.5" y1="1727.5" x2="470.5" y2="1727.5" stroke="#777" stroke-width="3" />
<line x1="482.4" y1="1674.7" x2="482.4" y2="1719.8" stroke="#777" stroke-width="2.6" />
<line x1="472.4" y1="1674.7" x2="492.4" y2="1674.7" stroke="#777" stroke-width="3" />
<line x1="472.4" y1="1719.8" x2="492.4" y2="1719.8" stroke="#777" stroke-width="3" />
<line x1="504.2" y1="1677.2" x2="504.2" y2="1722.2" stroke="#777" stroke-width="2.6" />
<line x1="494.2" y1="1677.2" x2="514.2" y2="1677.2" stroke="#777" stroke-width="3" />
<line x1="494.2" y1="1722.2" x2="514.2" y2="1722.2" stroke="#777" stroke-width="3" />
<line x1="526.1" y1="1664.5" x2="526.1" y2="1709.5" stroke="#777" stroke-width="2.6" />
<line x1="516.1" y1="1664.5" x2="536.1" y2="1664.5" stroke="#777" stroke-width="3" />
<line x1="516.1" y1="1709.5" x2="536.1" y2="1709.5" stroke="#777" stroke-width="3" />
<line x1="547.9" y1="1658.4" x2="547.9" y2="1703.4" stroke="#777" stroke-width="2.6" />
<line x1="537.9" y1="1658.4" x2="557.9" y2="1658.4" stroke="#777" stroke-width="3" />
<line x1="537.9" y1="1703.4" x2="557.9" y2="1703.4" stroke="#777" stroke-width="3" />
<line x1="569.8" y1="1666.1" x2="569.8" y2="1711.2" stroke="#777" stroke-width="2.6" />
<line x1="559.8" y1="1666.1" x2="579.8" y2="1666.1" stroke="#777" stroke-width="3" />
<line x1="559.8" y1="1711.2" x2="579.8" y2="1711.2" stroke="#777" stroke-width="3" />
<line x1="591.6" y1="1654.3" x2="591.6" y2="1699.3" stroke="#777" stroke-width="2.6" />
<line x1="581.6" y1="1654.3" x2="601.6" y2="1654.3" stroke="#777" stroke-width="3" />
<line x1="581.6" y1="1699.3" x2="601.6" y2="1699.3" stroke="#777" stroke-width="3" />
<line x1="613.5" y1="1653.0" x2="613.5" y2="1698.1" stroke="#777" stroke-width="2.6" />
<line x1="603.5" y1="1653.0" x2="623.5" y2="1653.0" stroke="#777" stroke-width="3" />
<line x1="603.5" y1="1698.1" x2="623.5" y2="1698.1" stroke="#777" stroke-width="3" />
<line x1="635.4" y1="1649.4" x2="635.4" y2="1694.4" stroke="#777" stroke-width="2.6" />
<line x1="625.4" y1="1649.4" x2="645.4" y2="1649.4" stroke="#777" stroke-width="3" />
<line x1="625.4" y1="1694.4" x2="645.4" y2="1694.4" stroke="#777" stroke-width="3" />
<line x1="657.2" y1="1646.9" x2="657.2" y2="1691.9" stroke="#777" stroke-width="2.6" />
<line x1="647.2" y1="1646.9" x2="667.2" y2="1646.9" stroke="#777" stroke-width="3" />
<line x1="647.2" y1="1691.9" x2="667.2" y2="1691.9" stroke="#777" stroke-width="3" />
<line x1="679.1" y1="1641.6" x2="679.1" y2="1686.6" stroke="#777" stroke-width="2.6" />
<line x1="669.1" y1="1641.6" x2="689.1" y2="1641.6" stroke="#777" stroke-width="3" />
<line x1="669.1" y1="1686.6" x2="689.1" y2="1686.6" stroke="#777" stroke-width="3" />
<line x1="700.9" y1="1633.4" x2="700.9" y2="1678.4" stroke="#777" stroke-width="2.6" />
<line x1="690.9" y1="1633.4" x2="710.9" y2="1633.4" stroke="#777" stroke-width="3" />
<line x1="690.9" y1="1678.4" x2="710.9" y2="1678.4" stroke="#777" stroke-width="3" />
<line x1="722.8" y1="1575.3" x2="722.8" y2="1649.0" stroke="#777" stroke-width="2.6" />
<line x1="712.8" y1="1575.3" x2="732.8" y2="1575.3" stroke="#777" stroke-width="3" />
<line x1="712.8" y1="1649.0" x2="732.8" y2="1649.0" stroke="#777" stroke-width="3" />
<line x1="744.6" y1="1549.5" x2="744.6" y2="1623.2" stroke="#777" stroke-width="2.6" />
<line x1="734.6" y1="1549.5" x2="754.6" y2="1549.5" stroke="#777" stroke-width="3" />
<line x1="734.6" y1="1623.2" x2="754.6" y2="1623.2" stroke="#777" stroke-width="3" />
<line x1="766.5" y1="1519.3" x2="766.5" y2="1593.0" stroke="#777" stroke-width="2.6" />
<line x1="756.5" y1="1519.3" x2="776.5" y2="1519.3" stroke="#777" stroke-width="3" />
<line x1="756.5" y1="1593.0" x2="776.5" y2="1593.0" stroke="#777" stroke-width="3" />
<line x1="788.3" y1="1468.1" x2="788.3" y2="1541.8" stroke="#777" stroke-width="2.6" />
<line x1="778.3" y1="1468.1" x2="798.3" y2="1468.1" stroke="#777" stroke-width="3" />
<line x1="778.3" y1="1541.8" x2="798.3" y2="1541.8" stroke="#777" stroke-width="3" />
<line x1="810.2" y1="1410.0" x2="810.2" y2="1483.7" stroke="#777" stroke-width="2.6" />
<line x1="800.2" y1="1410.0" x2="820.2" y2="1410.0" stroke="#777" stroke-width="3" />
<line x1="800.2" y1="1483.7" x2="820.2" y2="1483.7" stroke="#777" stroke-width="3" />
<line x1="832.1" y1="1367.9" x2="832.1" y2="1441.6" stroke="#777" stroke-width="2.6" />
<line x1="822.1" y1="1367.9" x2="842.1" y2="1367.9" stroke="#777" stroke-width="3" />
<line x1="822.1" y1="1441.6" x2="842.1" y2="1441.6" stroke="#777" stroke-width="3" />
<line x1="853.9" y1="1356.4" x2="853.9" y2="1430.1" stroke="#777" stroke-width="2.6" />
<line x1="843.9" y1="1356.4" x2="863.9" y2="1356.4" stroke="#777" stroke-width="3" />
<line x1="843.9" y1="1430.1" x2="863.9" y2="1430.1" stroke="#777" stroke-width="3" />
<line x1="875.8" y1="1349.9" x2="875.8" y2="1423.6" stroke="#777" stroke-width="2.6" />
<line x1="865.8" y1="1349.9" x2="885.8" y2="1349.9" stroke="#777" stroke-width="3" />
<line x1="865.8" y1="1423.6" x2="885.8" y2="1423.6" stroke="#777" stroke-width="3" />
<line x1="897.6" y1="1317.6" x2="897.6" y2="1391.3" stroke="#777" stroke-width="2.6" />
<line x1="887.6" y1="1317.6" x2="907.6" y2="1317.6" stroke="#777" stroke-width="3" />
<line x1="887.6" y1="1391.3" x2="907.6" y2="1391.3" stroke="#777" stroke-width="3" />
<line x1="919.5" y1="1315.1" x2="919.5" y2="1388.8" stroke="#777" stroke-width="2.6" />
<line x1="909.5" y1="1315.1" x2="929.5" y2="1315.1" stroke="#777" stroke-width="3" />
<line x1="909.5" y1="1388.8" x2="929.5" y2="1388.8" stroke="#777" stroke-width="3" />
<line x1="941.3" y1="1303.3" x2="941.3" y2="1377.0" stroke="#777" stroke-width="2.6" />
<line x1="931.3" y1="1303.3" x2="951.3" y2="1303.3" stroke="#777" stroke-width="3" />
<line x1="931.3" y1="1377.0" x2="951.3" y2="1377.0" stroke="#777" stroke-width="3" />
<line x1="963.2" y1="1315.5" x2="963.2" y2="1389.2" stroke="#777" stroke-width="2.6" />
<line x1="953.2" y1="1315.5" x2="973.2" y2="1315.5" stroke="#777" stroke-width="3" />
<line x1="953.2" y1="1389.2" x2="973.2" y2="1389.2" stroke="#777" stroke-width="3" />
<line x1="985.0" y1="1297.1" x2="985.0" y2="1370.8" stroke="#777" stroke-width="2.6" />
<line x1="975.0" y1="1297.1" x2="995.0" y2="1297.1" stroke="#777" stroke-width="3" />
<line x1="975.0" y1="1370.8" x2="995.0" y2="1370.8" stroke="#777" stroke-width="3" />
<line x1="1006.9" y1="1284.5" x2="1006.9" y2="1358.1" stroke="#777" stroke-width="2.6" />
<line x1="996.9" y1="1284.5" x2="1016.9" y2="1284.5" stroke="#777" stroke-width="3" />
<line x1="996.9" y1="1358.1" x2="1016.9" y2="1358.1" stroke="#777" stroke-width="3" />
<line x1="1028.7" y1="1260.3" x2="1028.7" y2="1334.0" stroke="#777" stroke-width="2.6" />
<line x1="1018.7" y1="1260.3" x2="1038.7" y2="1260.3" stroke="#777" stroke-width="3" />
<line x1="1018.7" y1="1334.0" x2="1038.7" y2="1334.0" stroke="#777" stroke-width="3" />
<line x1="1050.6" y1="1248.0" x2="1050.6" y2="1321.7" stroke="#777" stroke-width="2.6" />
<line x1="1040.6" y1="1248.0" x2="1060.6" y2="1248.0" stroke="#777" stroke-width="3" />
<line x1="1040.6" y1="1321.7" x2="1060.6" y2="1321.7" stroke="#777" stroke-width="3" />
<line x1="1072.5" y1="1249.3" x2="1072.5" y2="1323.0" stroke="#777" stroke-width="2.6" />
<line x1="1062.5" y1="1249.3" x2="1082.5" y2="1249.3" stroke="#777" stroke-width="3" />
<line x1="1062.5" y1="1323.0" x2="1082.5" y2="1323.0" stroke="#777" stroke-width="3" />
<line x1="1094.3" y1="1241.9" x2="1094.3" y2="1315.6" stroke="#777" stroke-width="2.6" />
<line x1="1084.3" y1="1241.9" x2="1104.3" y2="1241.9" stroke="#777" stroke-width="3" />
<line x1="1084.3" y1="1315.6" x2="1104.3" y2="1315.6" stroke="#777" stroke-width="3" />
<line x1="1116.2" y1="1243.1" x2="1116.2" y2="1316.8" stroke="#777" stroke-width="2.6" />
<line x1="1106.2" y1="1243.1" x2="1126.2" y2="1243.1" stroke="#777" stroke-width="3" />
<line x1="1106.2" y1="1316.8" x2="1126.2" y2="1316.8" stroke="#777" stroke-width="3" />
<line x1="1138.0" y1="1249.3" x2="1138.0" y2="1323.0" stroke="#777" stroke-width="2.6" />
<line x1="1128.0" y1="1249.3" x2="1148.0" y2="1249.3" stroke="#777" stroke-width="3" />
<line x1="1128.0" y1="1323.0" x2="1148.0" y2="1323.0" stroke="#777" stroke-width="3" />
<line x1="1159.9" y1="1263.2" x2="1159.9" y2="1336.9" stroke="#777" stroke-width="2.6" />
<line x1="1149.9" y1="1263.2" x2="1169.9" y2="1263.2" stroke="#777" stroke-width="3" />
<line x1="1149.9" y1="1336.9" x2="1169.9" y2="1336.9" stroke="#777" stroke-width="3" />
<line x1="1181.7" y1="1269.3" x2="1181.7" y2="1343.0" stroke="#777" stroke-width="2.6" />
<line x1="1171.7" y1="1269.3" x2="1191.7" y2="1269.3" stroke="#777" stroke-width="3" />
<line x1="1171.7" y1="1343.0" x2="1191.7" y2="1343.0" stroke="#777" stroke-width="3" />
<line x1="1203.6" y1="1275.5" x2="1203.6" y2="1349.1" stroke="#777" stroke-width="2.6" />
<line x1="1193.6" y1="1275.5" x2="1213.6" y2="1275.5" stroke="#777" stroke-width="3" />
<line x1="1193.6" y1="1349.1" x2="1213.6" y2="1349.1" stroke="#777" stroke-width="3" />
<polyline points="176.4,1879.3 198.3,1830.2 220.1,1812.6 242.0,1803.2 263.8,1793.0 285.7,1793.8 307.5,1793.8 329.4,1780.3 351.2,1798.3 373.1,1784.0 395.0,1775.8 416.8,1784.0 438.7,1776.6 460.5,1757.4 482.4,1766.4 504.2,1770.1 526.1,1766.4 547.9,1762.3 569.8,1762.3 591.6,1756.1 613.5,1756.1 635.4,1756.1 657.2,1747.1 679.1,1745.9 700.9,1744.7 722.8,1722.6 744.6,1695.6 766.5,1669.0 788.3,1633.0 810.2,1601.9 832.1,1550.8 853.9,1519.3 875.8,1493.9 897.6,1475.9 919.5,1461.6 941.3,1466.9 963.2,1490.2 985.0,1476.3 1006.9,1489.0 1028.7,1498.8 1050.6,1517.7 1072.5,1507.4 1094.3,1507.4 1116.2,1491.5 1138.0,1492.7 1159.9,1500.1 1181.7,1493.9 1203.6,1489.0" fill="none" stroke="#cfcfcf" stroke-width="2" stroke-dasharray="2 4"/>
<polyline points="176.4,1867.4 198.3,1841.2 220.1,1820.8 242.0,1808.5 263.8,1800.3 285.7,1786.0 307.5,1771.7 329.4,1755.3 351.2,1739.0 373.1,1734.9 395.0,1710.7 416.8,1700.1 438.7,1708.3 460.5,1709.5 482.4,1702.2 504.2,1704.2 526.1,1693.2 547.9,1685.8 569.8,1691.9 591.6,1681.7 613.5,1679.7 635.4,1676.8 657.2,1672.7 679.1,1667.8 700.9,1660.0 722.8,1642.0 744.6,1597.8 766.5,1575.3 788.3,1546.3 810.2,1492.7 832.1,1454.7 853.9,1441.6 875.8,1440.3 897.6,1405.6 919.5,1405.2 941.3,1399.0 963.2,1390.0 985.0,1383.9 1006.9,1379.0 1028.7,1377.3 1050.6,1382.7 1072.5,1374.9 1094.3,1381.4 1116.2,1373.7 1138.0,1370.0 1159.9,1368.8 1181.7,1368.8 1203.6,1362.6" fill="none" stroke="#c0c0c0" stroke-width="2.4" stroke-dasharray="10 5"/>
<polyline points="176.4,1851.9 198.3,1824.1 220.1,1786.8 242.0,1786.0 263.8,1777.4 285.7,1761.1 307.5,1752.5 329.4,1742.6 351.2,1714.8 373.1,1715.7 395.0,1702.2 416.8,1696.0 438.7,1705.0 460.5,1705.0 482.4,1697.2 504.2,1699.7 526.1,1687.0 547.9,1680.9 569.8,1688.7 591.6,1676.8 613.5,1675.6 635.4,1671.9 657.2,1669.4 679.1,1664.1 700.9,1655.9 722.8,1612.2 744.6,1586.4 766.5,1556.1 788.3,1505.0 810.2,1446.9 832.1,1404.7 853.9,1393.3 875.8,1386.8 897.6,1354.4 919.5,1352.0 941.3,1340.1 963.2,1352.4 985.0,1334.0 1006.9,1321.3 1028.7,1297.2 1050.6,1284.9 1072.5,1286.1 1094.3,1278.8 1116.2,1280.0 1138.0,1286.1 1159.9,1300.0 1181.7,1306.2 1203.6,1312.3" fill="none" stroke="#333" stroke-width="2.2" />
<polygon points="176.4,1872.6 178.4,1877.3 183.4,1877.7 179.6,1881.0 180.7,1886.0 176.4,1883.3 172.1,1886.0 173.2,1881.0 169.4,1877.7 174.4,1877.3" fill="#555" stroke="#2a2a2a" stroke-width="2.2"/>
<polygon points="198.3,1823.5 200.2,1828.2 205.3,1828.6 201.4,1831.9 202.6,1836.9 198.3,1834.2 193.9,1836.9 195.1,1831.9 191.2,1828.6 196.3,1828.2" fill="#555" stroke="#2a2a2a" stroke-width="2.2"/>
<polygon points="220.1,1805.9 222.1,1810.6 227.1,1811.0 223.3,1814.3 224.5,1819.3 220.1,1816.6 215.8,1819.3 216.9,1814.3 213.1,1811.0 218.2,1810.6" fill="#555" stroke="#2a2a2a" stroke-width="2.2"/>
<polygon points="242.0,1796.5 243.9,1801.2 249.0,1801.6 245.1,1804.9 246.3,1809.9 242.0,1807.2 237.6,1809.9 238.8,1804.9 234.9,1801.6 240.0,1801.2" fill="#555" stroke="#2a2a2a" stroke-width="2.2"/>
<polygon points="263.8,1786.3 265.8,1791.0 270.9,1791.4 267.0,1794.7 268.2,1799.7 263.8,1797.0 259.5,1799.7 260.7,1794.7 256.8,1791.4 261.9,1791.0" fill="#555" stroke="#2a2a2a" stroke-width="2.2"/>
<polygon points="285.7,1787.1 287.6,1791.8 292.7,1792.2 288.8,1795.5 290.0,1800.5 285.7,1797.8 281.3,1800.5 282.5,1795.5 278.6,1792.2 283.7,1791.8" fill="#555" stroke="#2a2a2a" stroke-width="2.2"/>
<polygon points="307.5,1787.1 309.5,1791.8 314.6,1792.2 310.7,1795.5 311.9,1800.5 307.5,1797.8 303.2,1800.5 304.4,1795.5 300.5,1792.2 305.6,1791.8" fill="#555" stroke="#2a2a2a" stroke-width="2.2"/>
<polygon points="329.4,1773.6 331.3,1778.3 336.4,1778.7 332.6,1782.0 333.7,1787.0 329.4,1784.3 325.0,1787.0 326.2,1782.0 322.3,1778.7 327.4,1778.3" fill="#555" stroke="#2a2a2a" stroke-width="2.2"/>
<polygon points="351.2,1791.6 353.2,1796.3 358.3,1796.7 354.4,1800.0 355.6,1805.0 351.2,1802.3 346.9,1805.0 348.1,1800.0 344.2,1796.7 349.3,1796.3" fill="#555" stroke="#2a2a2a" stroke-width="2.2"/>
<polygon points="373.1,1777.3 375.1,1782.0 380.1,1782.4 376.3,1785.7 377.4,1790.7 373.1,1788.0 368.7,1790.7 369.9,1785.7 366.1,1782.4 371.1,1782.0" fill="#555" stroke="#2a2a2a" stroke-width="2.2"/>
<polygon points="395.0,1769.1 396.9,1773.8 402.0,1774.2 398.1,1777.5 399.3,1782.5 395.0,1779.8 390.6,1782.5 391.8,1777.5 387.9,1774.2 393.0,1773.8" fill="#555" stroke="#2a2a2a" stroke-width="2.2"/>
<polygon points="416.8,1777.3 418.8,1782.0 423.8,1782.4 420.0,1785.7 421.2,1790.7 416.8,1788.0 412.5,1790.7 413.6,1785.7 409.8,1782.4 414.8,1782.0" fill="#555" stroke="#2a2a2a" stroke-width="2.2"/>
<polygon points="438.7,1769.9 440.6,1774.6 445.7,1775.0 441.8,1778.3 443.0,1783.3 438.7,1780.6 434.3,1783.3 435.5,1778.3 431.6,1775.0 436.7,1774.6" fill="#555" stroke="#2a2a2a" stroke-width="2.2"/>
<polygon points="460.5,1750.7 462.5,1755.4 467.6,1755.8 463.7,1759.1 464.9,1764.1 460.5,1761.4 456.2,1764.1 457.3,1759.1 453.5,1755.8 458.6,1755.4" fill="#555" stroke="#2a2a2a" stroke-width="2.2"/>
<polygon points="482.4,1759.7 484.3,1764.4 489.4,1764.8 485.5,1768.1 486.7,1773.1 482.4,1770.4 478.0,1773.1 479.2,1768.1 475.3,1764.8 480.4,1764.4" fill="#555" stroke="#2a2a2a" stroke-width="2.2"/>
<polygon points="504.2,1763.4 506.2,1768.1 511.3,1768.5 507.4,1771.8 508.6,1776.7 504.2,1774.1 499.9,1776.7 501.1,1771.8 497.2,1768.5 502.3,1768.1" fill="#555" stroke="#2a2a2a" stroke-width="2.2"/>
<polygon points="526.1,1759.7 528.0,1764.4 533.1,1764.8 529.2,1768.1 530.4,1773.1 526.1,1770.4 521.7,1773.1 522.9,1768.1 519.0,1764.8 524.1,1764.4" fill="#555" stroke="#2a2a2a" stroke-width="2.2"/>
<polygon points="547.9,1755.6 549.9,1760.3 555.0,1760.7 551.1,1764.0 552.3,1769.0 547.9,1766.3 543.6,1769.0 544.8,1764.0 540.9,1760.7 546.0,1760.3" fill="#555" stroke="#2a2a2a" stroke-width="2.2"/>
<polygon points="569.8,1755.6 571.7,1760.3 576.8,1760.7 573.0,1764.0 574.1,1769.0 569.8,1766.3 565.4,1769.0 566.6,1764.0 562.8,1760.7 567.8,1760.3" fill="#555" stroke="#2a2a2a" stroke-width="2.2"/>
<polygon points="591.6,1749.4 593.6,1754.2 598.7,1754.6 594.8,1757.9 596.0,1762.8 591.6,1760.2 587.3,1762.8 588.5,1757.9 584.6,1754.6 589.7,1754.2" fill="#555" stroke="#2a2a2a" stroke-width="2.2"/>
<polygon points="613.5,1749.4 615.5,1754.2 620.5,1754.6 616.7,1757.9 617.8,1762.8 613.5,1760.2 609.2,1762.8 610.3,1757.9 606.5,1754.6 611.5,1754.2" fill="#555" stroke="#2a2a2a" stroke-width="2.2"/>
<polygon points="635.4,1749.4 637.3,1754.2 642.4,1754.6 638.5,1757.9 639.7,1762.8 635.4,1760.2 631.0,1762.8 632.2,1757.9 628.3,1754.6 633.4,1754.2" fill="#555" stroke="#2a2a2a" stroke-width="2.2"/>
<polygon points="657.2,1740.4 659.2,1745.2 664.2,1745.6 660.4,1748.9 661.6,1753.8 657.2,1751.2 652.9,1753.8 654.0,1748.9 650.2,1745.6 655.3,1745.2" fill="#555" stroke="#2a2a2a" stroke-width="2.2"/>
<polygon points="679.1,1739.2 681.0,1743.9 686.1,1744.3 682.2,1747.7 683.4,1752.6 679.1,1750.0 674.7,1752.6 675.9,1747.7 672.0,1744.3 677.1,1743.9" fill="#555" stroke="#2a2a2a" stroke-width="2.2"/>
<polygon points="700.9,1738.0 702.9,1742.7 708.0,1743.1 704.1,1746.4 705.3,1751.4 700.9,1748.7 696.6,1751.4 697.8,1746.4 693.9,1743.1 699.0,1742.7" fill="#555" stroke="#2a2a2a" stroke-width="2.2"/>
<polygon points="722.8,1715.9 724.7,1720.6 729.8,1721.0 725.9,1724.3 727.1,1729.3 722.8,1726.6 718.4,1729.3 719.6,1724.3 715.7,1721.0 720.8,1720.6" fill="#555" stroke="#2a2a2a" stroke-width="2.2"/>
<polygon points="744.6,1688.9 746.6,1693.6 751.7,1694.0 747.8,1697.3 749.0,1702.3 744.6,1699.6 740.3,1702.3 741.5,1697.3 737.6,1694.0 742.7,1693.6" fill="#555" stroke="#2a2a2a" stroke-width="2.2"/>
<polygon points="766.5,1662.3 768.4,1667.0 773.5,1667.4 769.7,1670.7 770.8,1675.7 766.5,1673.0 762.1,1675.7 763.3,1670.7 759.4,1667.4 764.5,1667.0" fill="#555" stroke="#2a2a2a" stroke-width="2.2"/>
<polygon points="788.3,1626.3 790.3,1631.0 795.4,1631.4 791.5,1634.7 792.7,1639.7 788.3,1637.0 784.0,1639.7 785.2,1634.7 781.3,1631.4 786.4,1631.0" fill="#555" stroke="#2a2a2a" stroke-width="2.2"/>
<polygon points="810.2,1595.2 812.2,1599.9 817.2,1600.3 813.4,1603.7 814.5,1608.6 810.2,1606.0 805.8,1608.6 807.0,1603.7 803.2,1600.3 808.2,1599.9" fill="#555" stroke="#2a2a2a" stroke-width="2.2"/>
<polygon points="832.1,1544.1 834.0,1548.8 839.1,1549.2 835.2,1552.5 836.4,1557.5 832.1,1554.8 827.7,1557.5 828.9,1552.5 825.0,1549.2 830.1,1548.8" fill="#555" stroke="#2a2a2a" stroke-width="2.2"/>
<polygon points="853.9,1512.6 855.9,1517.3 860.9,1517.7 857.1,1521.0 858.3,1526.0 853.9,1523.3 849.6,1526.0 850.7,1521.0 846.9,1517.7 851.9,1517.3" fill="#555" stroke="#2a2a2a" stroke-width="2.2"/>
<polygon points="875.8,1487.2 877.7,1491.9 882.8,1492.3 878.9,1495.7 880.1,1500.6 875.8,1498.0 871.4,1500.6 872.6,1495.7 868.7,1492.3 873.8,1491.9" fill="#555" stroke="#2a2a2a" stroke-width="2.2"/>
<polygon points="897.6,1469.2 899.6,1473.9 904.7,1474.3 900.8,1477.7 902.0,1482.6 897.6,1480.0 893.3,1482.6 894.4,1477.7 890.6,1474.3 895.7,1473.9" fill="#555" stroke="#2a2a2a" stroke-width="2.2"/>
<polygon points="919.5,1454.9 921.4,1459.6 926.5,1460.0 922.6,1463.3 923.8,1468.3 919.5,1465.6 915.1,1468.3 916.3,1463.3 912.4,1460.0 917.5,1459.6" fill="#555" stroke="#2a2a2a" stroke-width="2.2"/>
<polygon points="941.3,1460.2 943.3,1464.9 948.4,1465.3 944.5,1468.7 945.7,1473.6 941.3,1471.0 937.0,1473.6 938.2,1468.7 934.3,1465.3 939.4,1464.9" fill="#555" stroke="#2a2a2a" stroke-width="2.2"/>
<polygon points="963.2,1483.5 965.1,1488.3 970.2,1488.7 966.3,1492.0 967.5,1496.9 963.2,1494.3 958.8,1496.9 960.0,1492.0 956.1,1488.7 961.2,1488.3" fill="#555" stroke="#2a2a2a" stroke-width="2.2"/>
<polygon points="985.0,1469.6 987.0,1474.3 992.1,1474.8 988.2,1478.1 989.4,1483.0 985.0,1480.4 980.7,1483.0 981.9,1478.1 978.0,1474.8 983.1,1474.3" fill="#555" stroke="#2a2a2a" stroke-width="2.2"/>
<polygon points="1006.9,1482.3 1008.8,1487.0 1013.9,1487.4 1010.1,1490.7 1011.2,1495.7 1006.9,1493.1 1002.5,1495.7 1003.7,1490.7 999.9,1487.4 1004.9,1487.0" fill="#555" stroke="#2a2a2a" stroke-width="2.2"/>
<polygon points="1028.7,1492.1 1030.7,1496.8 1035.8,1497.3 1031.9,1500.6 1033.1,1505.5 1028.7,1502.9 1024.4,1505.5 1025.6,1500.6 1021.7,1497.3 1026.8,1496.8" fill="#555" stroke="#2a2a2a" stroke-width="2.2"/>
<polygon points="1050.6,1511.0 1052.6,1515.7 1057.6,1516.1 1053.8,1519.4 1054.9,1524.3 1050.6,1521.7 1046.3,1524.3 1047.4,1519.4 1043.6,1516.1 1048.6,1515.7" fill="#555" stroke="#2a2a2a" stroke-width="2.2"/>
<polygon points="1072.5,1500.7 1074.4,1505.4 1079.5,1505.8 1075.6,1509.2 1076.8,1514.1 1072.5,1511.5 1068.1,1514.1 1069.3,1509.2 1065.4,1505.8 1070.5,1505.4" fill="#555" stroke="#2a2a2a" stroke-width="2.2"/>
<polygon points="1094.3,1500.7 1096.3,1505.4 1101.3,1505.8 1097.5,1509.2 1098.7,1514.1 1094.3,1511.5 1090.0,1514.1 1091.1,1509.2 1087.3,1505.8 1092.4,1505.4" fill="#555" stroke="#2a2a2a" stroke-width="2.2"/>
<polygon points="1116.2,1484.8 1118.1,1489.5 1123.2,1489.9 1119.3,1493.2 1120.5,1498.2 1116.2,1495.5 1111.8,1498.2 1113.0,1493.2 1109.1,1489.9 1114.2,1489.5" fill="#555" stroke="#2a2a2a" stroke-width="2.2"/>
<polygon points="1138.0,1486.0 1140.0,1490.7 1145.1,1491.1 1141.2,1494.4 1142.4,1499.4 1138.0,1496.7 1133.7,1499.4 1134.9,1494.4 1131.0,1491.1 1136.1,1490.7" fill="#555" stroke="#2a2a2a" stroke-width="2.2"/>
<polygon points="1159.9,1493.4 1161.8,1498.1 1166.9,1498.5 1163.0,1501.8 1164.2,1506.8 1159.9,1504.1 1155.5,1506.8 1156.7,1501.8 1152.8,1498.5 1157.9,1498.1" fill="#555" stroke="#2a2a2a" stroke-width="2.2"/>
<polygon points="1181.7,1487.2 1183.7,1491.9 1188.8,1492.3 1184.9,1495.7 1186.1,1500.6 1181.7,1498.0 1177.4,1500.6 1178.6,1495.7 1174.7,1492.3 1179.8,1491.9" fill="#555" stroke="#2a2a2a" stroke-width="2.2"/>
<polygon points="1203.6,1482.3 1205.5,1487.0 1210.6,1487.4 1206.8,1490.7 1207.9,1495.7 1203.6,1493.1 1199.2,1495.7 1200.4,1490.7 1196.5,1487.4 1201.6,1487.0" fill="#555" stroke="#2a2a2a" stroke-width="2.2"/>
<polygon points="176.4,1859.6 183.9,1872.6 168.9,1872.6" fill="#f2f2f2" stroke="#c4c4c4" stroke-width="3" stroke-linejoin="miter"/>
<polygon points="198.3,1833.4 205.8,1846.5 190.8,1846.5" fill="#f2f2f2" stroke="#c4c4c4" stroke-width="3" stroke-linejoin="miter"/>
<polygon points="220.1,1813.0 227.6,1826.0 212.6,1826.0" fill="#f2f2f2" stroke="#c4c4c4" stroke-width="3" stroke-linejoin="miter"/>
<polygon points="242.0,1800.7 249.5,1813.7 234.5,1813.7" fill="#f2f2f2" stroke="#c4c4c4" stroke-width="3" stroke-linejoin="miter"/>
<polygon points="263.8,1792.5 271.3,1805.5 256.3,1805.5" fill="#f2f2f2" stroke="#c4c4c4" stroke-width="3" stroke-linejoin="miter"/>
<polygon points="285.7,1778.2 293.2,1791.2 278.2,1791.2" fill="#f2f2f2" stroke="#c4c4c4" stroke-width="3" stroke-linejoin="miter"/>
<polygon points="307.5,1763.9 315.0,1776.9 300.0,1776.9" fill="#f2f2f2" stroke="#c4c4c4" stroke-width="3" stroke-linejoin="miter"/>
<polygon points="329.4,1747.5 336.9,1760.6 321.9,1760.6" fill="#f2f2f2" stroke="#c4c4c4" stroke-width="3" stroke-linejoin="miter"/>
<polygon points="351.2,1731.1 358.7,1744.2 343.7,1744.2" fill="#f2f2f2" stroke="#c4c4c4" stroke-width="3" stroke-linejoin="miter"/>
<polygon points="373.1,1727.0 380.6,1740.1 365.6,1740.1" fill="#f2f2f2" stroke="#c4c4c4" stroke-width="3" stroke-linejoin="miter"/>
<polygon points="395.0,1702.9 402.5,1716.0 387.5,1716.0" fill="#f2f2f2" stroke="#c4c4c4" stroke-width="3" stroke-linejoin="miter"/>
<polygon points="416.8,1692.3 424.3,1705.3 409.3,1705.3" fill="#f2f2f2" stroke="#c4c4c4" stroke-width="3" stroke-linejoin="miter"/>
<polygon points="438.7,1700.5 446.2,1713.5 431.2,1713.5" fill="#f2f2f2" stroke="#c4c4c4" stroke-width="3" stroke-linejoin="miter"/>
<polygon points="460.5,1701.7 468.0,1714.7 453.0,1714.7" fill="#f2f2f2" stroke="#c4c4c4" stroke-width="3" stroke-linejoin="miter"/>
<polygon points="482.4,1694.3 489.9,1707.4 474.9,1707.4" fill="#f2f2f2" stroke="#c4c4c4" stroke-width="3" stroke-linejoin="miter"/>
<polygon points="504.2,1696.4 511.7,1709.4 496.7,1709.4" fill="#f2f2f2" stroke="#c4c4c4" stroke-width="3" stroke-linejoin="miter"/>
<polygon points="526.1,1685.3 533.6,1698.4 518.6,1698.4" fill="#f2f2f2" stroke="#c4c4c4" stroke-width="3" stroke-linejoin="miter"/>
<polygon points="547.9,1678.0 555.4,1691.0 540.4,1691.0" fill="#f2f2f2" stroke="#c4c4c4" stroke-width="3" stroke-linejoin="miter"/>
<polygon points="569.8,1684.1 577.3,1697.1 562.3,1697.1" fill="#f2f2f2" stroke="#c4c4c4" stroke-width="3" stroke-linejoin="miter"/>
<polygon points="591.6,1673.9 599.1,1686.9 584.1,1686.9" fill="#f2f2f2" stroke="#c4c4c4" stroke-width="3" stroke-linejoin="miter"/>
<polygon points="613.5,1671.8 621.0,1684.9 606.0,1684.9" fill="#f2f2f2" stroke="#c4c4c4" stroke-width="3" stroke-linejoin="miter"/>
<polygon points="635.4,1669.0 642.9,1682.0 627.9,1682.0" fill="#f2f2f2" stroke="#c4c4c4" stroke-width="3" stroke-linejoin="miter"/>
<polygon points="657.2,1664.9 664.7,1677.9 649.7,1677.9" fill="#f2f2f2" stroke="#c4c4c4" stroke-width="3" stroke-linejoin="miter"/>
<polygon points="679.1,1660.0 686.6,1673.0 671.6,1673.0" fill="#f2f2f2" stroke="#c4c4c4" stroke-width="3" stroke-linejoin="miter"/>
<polygon points="700.9,1652.2 708.4,1665.2 693.4,1665.2" fill="#f2f2f2" stroke="#c4c4c4" stroke-width="3" stroke-linejoin="miter"/>
<polygon points="722.8,1634.2 730.3,1647.2 715.3,1647.2" fill="#f2f2f2" stroke="#c4c4c4" stroke-width="3" stroke-linejoin="miter"/>
<polygon points="744.6,1590.0 752.1,1603.1 737.1,1603.1" fill="#f2f2f2" stroke="#c4c4c4" stroke-width="3" stroke-linejoin="miter"/>
<polygon points="766.5,1567.5 774.0,1580.6 759.0,1580.6" fill="#f2f2f2" stroke="#c4c4c4" stroke-width="3" stroke-linejoin="miter"/>
<polygon points="788.3,1538.5 795.8,1551.5 780.8,1551.5" fill="#f2f2f2" stroke="#c4c4c4" stroke-width="3" stroke-linejoin="miter"/>
<polygon points="810.2,1484.9 817.7,1497.9 802.7,1497.9" fill="#f2f2f2" stroke="#c4c4c4" stroke-width="3" stroke-linejoin="miter"/>
<polygon points="832.1,1446.8 839.6,1459.9 824.6,1459.9" fill="#f2f2f2" stroke="#c4c4c4" stroke-width="3" stroke-linejoin="miter"/>
<polygon points="853.9,1433.7 861.4,1446.8 846.4,1446.8" fill="#f2f2f2" stroke="#c4c4c4" stroke-width="3" stroke-linejoin="miter"/>
<polygon points="875.8,1432.5 883.3,1445.6 868.3,1445.6" fill="#f2f2f2" stroke="#c4c4c4" stroke-width="3" stroke-linejoin="miter"/>
<polygon points="897.6,1397.7 905.1,1410.8 890.1,1410.8" fill="#f2f2f2" stroke="#c4c4c4" stroke-width="3" stroke-linejoin="miter"/>
<polygon points="919.5,1397.3 927.0,1410.4 912.0,1410.4" fill="#f2f2f2" stroke="#c4c4c4" stroke-width="3" stroke-linejoin="miter"/>
<polygon points="941.3,1391.2 948.8,1404.2 933.8,1404.2" fill="#f2f2f2" stroke="#c4c4c4" stroke-width="3" stroke-linejoin="miter"/>
<polygon points="963.2,1382.2 970.7,1395.2 955.7,1395.2" fill="#f2f2f2" stroke="#c4c4c4" stroke-width="3" stroke-linejoin="miter"/>
<polygon points="985.0,1376.1 992.5,1389.1 977.5,1389.1" fill="#f2f2f2" stroke="#c4c4c4" stroke-width="3" stroke-linejoin="miter"/>
<polygon points="1006.9,1371.1 1014.4,1384.2 999.4,1384.2" fill="#f2f2f2" stroke="#c4c4c4" stroke-width="3" stroke-linejoin="miter"/>
<polygon points="1028.7,1369.5 1036.2,1382.6 1021.2,1382.6" fill="#f2f2f2" stroke="#c4c4c4" stroke-width="3" stroke-linejoin="miter"/>
<polygon points="1050.6,1374.8 1058.1,1387.9 1043.1,1387.9" fill="#f2f2f2" stroke="#c4c4c4" stroke-width="3" stroke-linejoin="miter"/>
<polygon points="1072.5,1367.1 1080.0,1380.1 1065.0,1380.1" fill="#f2f2f2" stroke="#c4c4c4" stroke-width="3" stroke-linejoin="miter"/>
<polygon points="1094.3,1373.6 1101.8,1386.7 1086.8,1386.7" fill="#f2f2f2" stroke="#c4c4c4" stroke-width="3" stroke-linejoin="miter"/>
<polygon points="1116.2,1365.8 1123.7,1378.9 1108.7,1378.9" fill="#f2f2f2" stroke="#c4c4c4" stroke-width="3" stroke-linejoin="miter"/>
<polygon points="1138.0,1362.1 1145.5,1375.2 1130.5,1375.2" fill="#f2f2f2" stroke="#c4c4c4" stroke-width="3" stroke-linejoin="miter"/>
<polygon points="1159.9,1360.9 1167.4,1374.0 1152.4,1374.0" fill="#f2f2f2" stroke="#c4c4c4" stroke-width="3" stroke-linejoin="miter"/>
<polygon points="1181.7,1360.9 1189.2,1374.0 1174.2,1374.0" fill="#f2f2f2" stroke="#c4c4c4" stroke-width="3" stroke-linejoin="miter"/>
<polygon points="1203.6,1354.8 1211.1,1367.8 1196.1,1367.8" fill="#f2f2f2" stroke="#c4c4c4" stroke-width="3" stroke-linejoin="miter"/>
<rect x="170.2" y="1845.5" width="12.4" height="12.8" rx="4" fill="#999" stroke="#2e2e2e" stroke-width="2.8"/>
<rect x="192.1" y="1817.7" width="12.4" height="12.8" rx="4" fill="#555" stroke="#2e2e2e" stroke-width="2.8"/>
<rect x="213.9" y="1780.4" width="12.4" height="12.8" rx="4" fill="#999" stroke="#2e2e2e" stroke-width="2.8"/>
<rect x="235.8" y="1779.6" width="12.4" height="12.8" rx="4" fill="#999" stroke="#2e2e2e" stroke-width="2.8"/>
<rect x="257.6" y="1771.0" width="12.4" height="12.8" rx="4" fill="#999" stroke="#2e2e2e" stroke-width="2.8"/>
<rect x="279.5" y="1754.7" width="12.4" height="12.8" rx="4" fill="#d8d8d8" stroke="#2e2e2e" stroke-width="2.8"/>
<rect x="301.3" y="1746.1" width="12.4" height="12.8" rx="4" fill="#d8d8d8" stroke="#2e2e2e" stroke-width="2.8"/>
<rect x="323.2" y="1736.2" width="12.4" height="12.8" rx="4" fill="#d8d8d8" stroke="#2e2e2e" stroke-width="2.8"/>
<rect x="345.0" y="1708.4" width="12.4" height="12.8" rx="4" fill="#d8d8d8" stroke="#2e2e2e" stroke-width="2.8"/>
<rect x="366.9" y="1709.3" width="12.4" height="12.8" rx="4" fill="#d8d8d8" stroke="#2e2e2e" stroke-width="2.8"/>
<rect x="388.8" y="1695.8" width="12.4" height="12.8" rx="4" fill="#d8d8d8" stroke="#2e2e2e" stroke-width="2.8"/>
<rect x="410.6" y="1689.6" width="12.4" height="12.8" rx="4" fill="#d8d8d8" stroke="#2e2e2e" stroke-width="2.8"/>
<rect x="432.5" y="1698.6" width="12.4" height="12.8" rx="4" fill="#d8d8d8" stroke="#2e2e2e" stroke-width="2.8"/>
<rect x="454.3" y="1698.6" width="12.4" height="12.8" rx="4" fill="#d8d8d8" stroke="#2e2e2e" stroke-width="2.8"/>
<rect x="476.2" y="1690.8" width="12.4" height="12.8" rx="4" fill="#d8d8d8" stroke="#2e2e2e" stroke-width="2.8"/>
<rect x="498.0" y="1693.3" width="12.4" height="12.8" rx="4" fill="#d8d8d8" stroke="#2e2e2e" stroke-width="2.8"/>
<rect x="519.9" y="1680.6" width="12.4" height="12.8" rx="4" fill="#d8d8d8" stroke="#2e2e2e" stroke-width="2.8"/>
<rect x="541.7" y="1674.5" width="12.4" height="12.8" rx="4" fill="#d8d8d8" stroke="#2e2e2e" stroke-width="2.8"/>
<rect x="563.6" y="1682.3" width="12.4" height="12.8" rx="4" fill="#d8d8d8" stroke="#2e2e2e" stroke-width="2.8"/>
<rect x="585.4" y="1670.4" width="12.4" height="12.8" rx="4" fill="#d8d8d8" stroke="#2e2e2e" stroke-width="2.8"/>
<rect x="607.3" y="1669.2" width="12.4" height="12.8" rx="4" fill="#d8d8d8" stroke="#2e2e2e" stroke-width="2.8"/>
<rect x="629.2" y="1665.5" width="12.4" height="12.8" rx="4" fill="#d8d8d8" stroke="#2e2e2e" stroke-width="2.8"/>
<rect x="651.0" y="1663.0" width="12.4" height="12.8" rx="4" fill="#d8d8d8" stroke="#2e2e2e" stroke-width="2.8"/>
<rect x="672.9" y="1657.7" width="12.4" height="12.8" rx="4" fill="#d8d8d8" stroke="#2e2e2e" stroke-width="2.8"/>
<rect x="694.7" y="1649.5" width="12.4" height="12.8" rx="4" fill="#d8d8d8" stroke="#2e2e2e" stroke-width="2.8"/>
<rect x="716.6" y="1605.8" width="12.4" height="12.8" rx="4" fill="#d8d8d8" stroke="#2e2e2e" stroke-width="2.8"/>
<rect x="738.4" y="1580.0" width="12.4" height="12.8" rx="4" fill="#d8d8d8" stroke="#2e2e2e" stroke-width="2.8"/>
<rect x="760.3" y="1549.7" width="12.4" height="12.8" rx="4" fill="#d8d8d8" stroke="#2e2e2e" stroke-width="2.8"/>
<rect x="782.1" y="1498.6" width="12.4" height="12.8" rx="4" fill="#d8d8d8" stroke="#2e2e2e" stroke-width="2.8"/>
<rect x="804.0" y="1440.5" width="12.4" height="12.8" rx="4" fill="#d8d8d8" stroke="#2e2e2e" stroke-width="2.8"/>
<rect x="825.9" y="1398.3" width="12.4" height="12.8" rx="4" fill="#d8d8d8" stroke="#2e2e2e" stroke-width="2.8"/>
<rect x="847.7" y="1386.9" width="12.4" height="12.8" rx="4" fill="#d8d8d8" stroke="#2e2e2e" stroke-width="2.8"/>
<rect x="869.6" y="1380.4" width="12.4" height="12.8" rx="4" fill="#d8d8d8" stroke="#2e2e2e" stroke-width="2.8"/>
<rect x="891.4" y="1348.0" width="12.4" height="12.8" rx="4" fill="#d8d8d8" stroke="#2e2e2e" stroke-width="2.8"/>
<rect x="913.3" y="1345.6" width="12.4" height="12.8" rx="4" fill="#d8d8d8" stroke="#2e2e2e" stroke-width="2.8"/>
<rect x="935.1" y="1333.7" width="12.4" height="12.8" rx="4" fill="#d8d8d8" stroke="#2e2e2e" stroke-width="2.8"/>
<rect x="957.0" y="1346.0" width="12.4" height="12.8" rx="4" fill="#d8d8d8" stroke="#2e2e2e" stroke-width="2.8"/>
<rect x="978.8" y="1327.6" width="12.4" height="12.8" rx="4" fill="#d8d8d8" stroke="#2e2e2e" stroke-width="2.8"/>
<rect x="1000.7" y="1314.9" width="12.4" height="12.8" rx="4" fill="#d8d8d8" stroke="#2e2e2e" stroke-width="2.8"/>
<rect x="1022.5" y="1290.8" width="12.4" height="12.8" rx="4" fill="#d8d8d8" stroke="#2e2e2e" stroke-width="2.8"/>
<rect x="1044.4" y="1278.5" width="12.4" height="12.8" rx="4" fill="#d8d8d8" stroke="#2e2e2e" stroke-width="2.8"/>
<rect x="1066.3" y="1279.7" width="12.4" height="12.8" rx="4" fill="#d8d8d8" stroke="#2e2e2e" stroke-width="2.8"/>
<rect x="1088.1" y="1272.4" width="12.4" height="12.8" rx="4" fill="#d8d8d8" stroke="#2e2e2e" stroke-width="2.8"/>
<rect x="1110.0" y="1273.6" width="12.4" height="12.8" rx="4" fill="#d8d8d8" stroke="#2e2e2e" stroke-width="2.8"/>
<rect x="1131.8" y="1279.7" width="12.4" height="12.8" rx="4" fill="#d8d8d8" stroke="#2e2e2e" stroke-width="2.8"/>
<rect x="1153.7" y="1293.6" width="12.4" height="12.8" rx="4" fill="#d8d8d8" stroke="#2e2e2e" stroke-width="2.8"/>
<rect x="1175.5" y="1299.8" width="12.4" height="12.8" rx="4" fill="#d8d8d8" stroke="#2e2e2e" stroke-width="2.8"/>
<rect x="1197.4" y="1305.9" width="12.4" height="12.8" rx="4" fill="#d8d8d8" stroke="#2e2e2e" stroke-width="2.8"/>
<line x1="122.0" y1="1166.5" x2="1249.0" y2="1166.5" stroke="#858585" stroke-width="3.6" />
<line x1="1247.5" y1="1165.0" x2="1247.5" y2="1945.0" stroke="#666" stroke-width="3.2" />
<line x1="132.9" y1="1165.0" x2="132.9" y2="1946.0" stroke="#7a7a7a" stroke-width="3.4" />
<line x1="131.0" y1="1933.1" x2="1249.0" y2="1933.1" stroke="#7a7a7a" stroke-width="3.2" />
<line x1="702.3" y1="1165.0" x2="702.3" y2="1946.0" stroke="#4a4a4a" stroke-width="4.4" />
</svg>
</body></html>
